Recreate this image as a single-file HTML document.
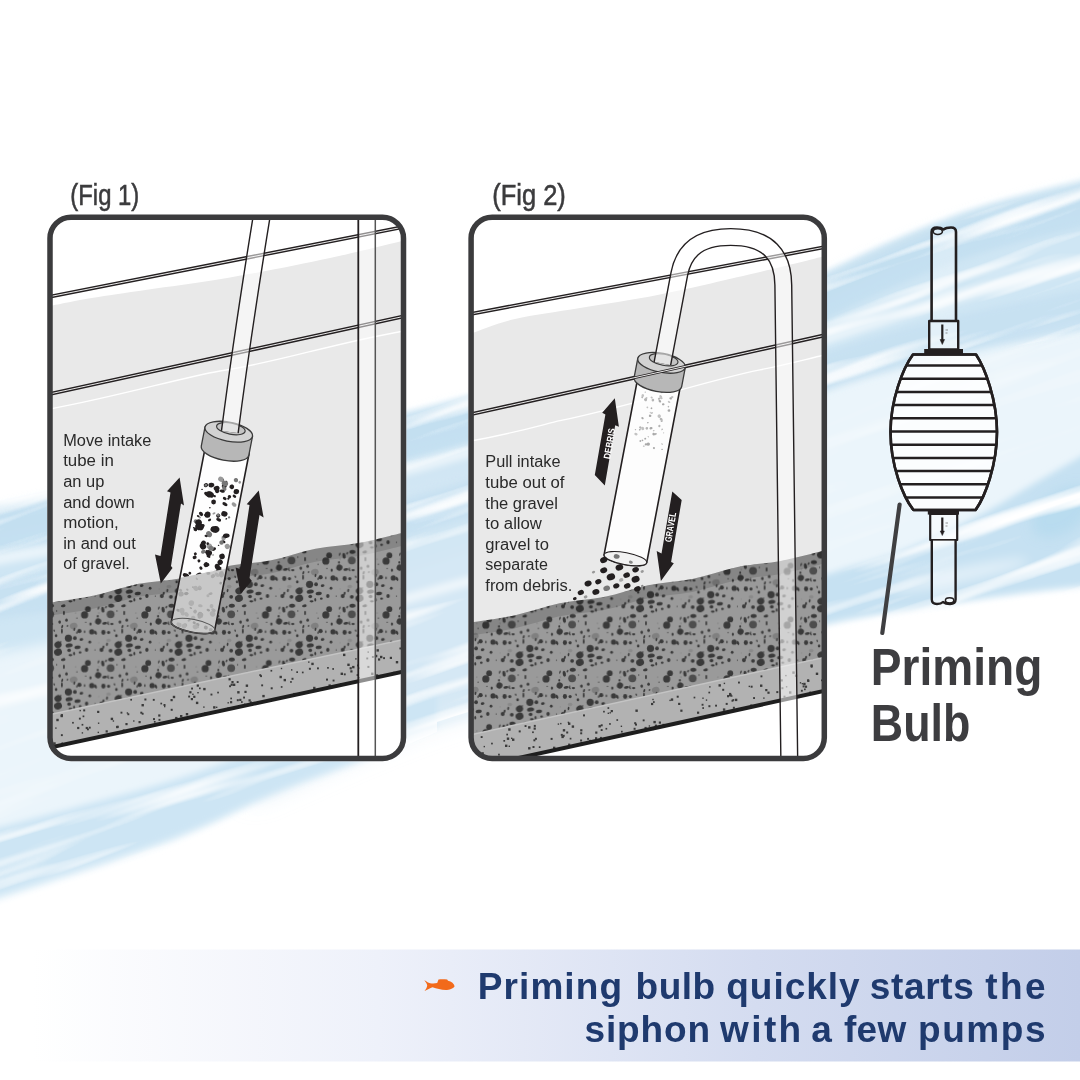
<!DOCTYPE html>
<html><head><meta charset="utf-8"><title>Priming bulb</title>
<style>
html,body{margin:0;padding:0;background:#fff;}
body{width:1080px;height:1080px;overflow:hidden;font-family:"Liberation Sans",sans-serif;}
svg{display:block;font-family:"Liberation Sans",sans-serif;}
</style></head><body>
<svg width="1080" height="1080" viewBox="0 0 1080 1080">
<defs>
<linearGradient id="ban" x1="0" x2="1" y1="0" y2="0">
<stop offset="0" stop-color="#ffffff"/><stop offset="0.03" stop-color="#ffffff"/>
<stop offset="0.35" stop-color="#eef1fa"/><stop offset="0.7" stop-color="#d4dcf0"/><stop offset="1" stop-color="#c3cee9"/>
</linearGradient>
<filter id="b2" x="-5%" y="-5%" width="110%" height="110%"><feGaussianBlur stdDeviation="2"/></filter>
<filter id="b5" x="-10%" y="-10%" width="120%" height="120%"><feGaussianBlur stdDeviation="5"/></filter>
<filter id="b10" x="-10%" y="-10%" width="120%" height="120%"><feGaussianBlur stdDeviation="10"/></filter>
<pattern id="grv" width="60.3" height="53.8" patternUnits="userSpaceOnUse" patternTransform="translate(60 600)">
<rect width="61.3" height="54.8" fill="#9a9a9a"/>
<ellipse cx="3.2" cy="5.8" rx="2.3" ry="1.4" fill="#3a3a3a" transform="rotate(-10 3.2 5.8)"/>
<ellipse cx="63.5" cy="5.8" rx="2.3" ry="1.4" fill="#3a3a3a" transform="rotate(-10 63.5 5.8)"/>
<ellipse cx="27.9" cy="9.1" rx="2.9" ry="2.9" fill="#3a3a3a" transform="rotate(0 27.9 9.1)"/>
<ellipse cx="24.6" cy="14.9" rx="3.6" ry="3.6" fill="#3a3a3a" transform="rotate(0 24.6 14.9)"/>
<ellipse cx="42.8" cy="9.7" rx="1.6" ry="2.9" fill="#3a3a3a" transform="rotate(-10 42.8 9.7)"/>
<ellipse cx="46" cy="7.1" rx="0.9" ry="1.4" fill="#444" transform="rotate(30 46 7.1)"/>
<ellipse cx="51.2" cy="5.8" rx="3.1" ry="2" fill="#3a3a3a" transform="rotate(-5 51.2 5.8)"/>
<ellipse cx="50.6" cy="14.3" rx="3.9" ry="3.9" fill="#4d4d4d" transform="rotate(0 50.6 14.3)"/>
<ellipse cx="3.9" cy="13" rx="0.9" ry="2.3" fill="#3a3a3a" transform="rotate(0 3.9 13)"/>
<ellipse cx="64.2" cy="13" rx="0.9" ry="2.3" fill="#3a3a3a" transform="rotate(0 64.2 13)"/>
<ellipse cx="6.5" cy="20.1" rx="1.3" ry="1.6" fill="#3a3a3a" transform="rotate(0 6.5 20.1)"/>
<ellipse cx="38.2" cy="21.4" rx="3.1" ry="3.1" fill="#3a3a3a" transform="rotate(20 38.2 21.4)"/>
<ellipse cx="44.7" cy="23.3" rx="2.6" ry="1.3" fill="#3a3a3a" transform="rotate(-10 44.7 23.3)"/>
<ellipse cx="51.9" cy="24" rx="1.7" ry="1.1" fill="#3a3a3a" transform="rotate(0 51.9 24)"/>
<ellipse cx="-0.4" cy="22" rx="1.3" ry="1.7" fill="#3a3a3a" transform="rotate(0 -0.4 22)"/>
<ellipse cx="59.9" cy="22" rx="1.3" ry="1.7" fill="#3a3a3a" transform="rotate(0 59.9 22)"/>
<ellipse cx="13.6" cy="25.9" rx="3.9" ry="3.1" fill="#808080" transform="rotate(-20 13.6 25.9)"/>
<ellipse cx="30.5" cy="24" rx="1.1" ry="1.6" fill="#3a3a3a" transform="rotate(0 30.5 24)"/>
<ellipse cx="19.4" cy="31.1" rx="2.1" ry="2.1" fill="#3a3a3a" transform="rotate(0 19.4 31.1)"/>
<ellipse cx="24.6" cy="31.8" rx="0.7" ry="1.3" fill="#3a3a3a" transform="rotate(0 24.6 31.8)"/>
<ellipse cx="31.8" cy="31.8" rx="2.6" ry="2.6" fill="#3a3a3a" transform="rotate(0 31.8 31.8)"/>
<ellipse cx="36" cy="33.4" rx="0.9" ry="1.4" fill="#3a3a3a" transform="rotate(0 36 33.4)"/>
<ellipse cx="43.4" cy="32.4" rx="2.1" ry="2.4" fill="#3a3a3a" transform="rotate(0 43.4 32.4)"/>
<ellipse cx="48.6" cy="32.4" rx="1.6" ry="1.6" fill="#3a3a3a" transform="rotate(0 48.6 32.4)"/>
<ellipse cx="1.9" cy="31.1" rx="0.9" ry="2.6" fill="#3a3a3a" transform="rotate(0 1.9 31.1)"/>
<ellipse cx="62.2" cy="31.1" rx="0.9" ry="2.6" fill="#3a3a3a" transform="rotate(0 62.2 31.1)"/>
<ellipse cx="8.4" cy="38.2" rx="3.6" ry="3.6" fill="#3a3a3a" transform="rotate(0 8.4 38.2)"/>
<ellipse cx="14.9" cy="38.2" rx="1.9" ry="2" fill="#3a3a3a" transform="rotate(0 14.9 38.2)"/>
<ellipse cx="21.4" cy="39.5" rx="1.9" ry="1.3" fill="#3a3a3a" transform="rotate(-10 21.4 39.5)"/>
<ellipse cx="-3.9" cy="35.6" rx="1.3" ry="1.6" fill="#3a3a3a" transform="rotate(0 -3.9 35.6)"/>
<ellipse cx="56.4" cy="35.6" rx="1.3" ry="1.6" fill="#3a3a3a" transform="rotate(0 56.4 35.6)"/>
<ellipse cx="29.8" cy="42.1" rx="1.4" ry="1.4" fill="#3a3a3a" transform="rotate(0 29.8 42.1)"/>
<ellipse cx="9.1" cy="45.4" rx="3.6" ry="2" fill="#3a3a3a" transform="rotate(-10 9.1 45.4)"/>
<ellipse cx="17.5" cy="47.3" rx="3.1" ry="1.7" fill="#3a3a3a" transform="rotate(-10 17.5 47.3)"/>
<ellipse cx="9.1" cy="-3.5" rx="1.9" ry="1.7" fill="#3a3a3a" transform="rotate(0 9.1 -3.5)"/>
<ellipse cx="9.1" cy="50.3" rx="1.9" ry="1.7" fill="#3a3a3a" transform="rotate(0 9.1 50.3)"/>
<ellipse cx="26.6" cy="-3.9" rx="1.7" ry="2" fill="#3a3a3a" transform="rotate(0 26.6 -3.9)"/>
<ellipse cx="26.6" cy="49.9" rx="1.7" ry="2" fill="#3a3a3a" transform="rotate(0 26.6 49.9)"/>
<ellipse cx="20.1" cy="-1.3" rx="1.4" ry="1.1" fill="#3a3a3a" transform="rotate(0 20.1 -1.3)"/>
<ellipse cx="20.1" cy="52.5" rx="1.4" ry="1.1" fill="#3a3a3a" transform="rotate(0 20.1 52.5)"/>
<ellipse cx="10.4" cy="1.3" rx="2" ry="1.1" fill="#3a3a3a" transform="rotate(0 10.4 1.3)"/>
<ellipse cx="10.4" cy="55.1" rx="2" ry="1.1" fill="#3a3a3a" transform="rotate(0 10.4 55.1)"/>
<ellipse cx="41.5" cy="-3.9" rx="2" ry="2.1" fill="#3a3a3a" transform="rotate(0 41.5 -3.9)"/>
<ellipse cx="41.5" cy="49.9" rx="2" ry="2.1" fill="#3a3a3a" transform="rotate(0 41.5 49.9)"/>
<ellipse cx="50.6" cy="-3.2" rx="1.9" ry="1.9" fill="#3a3a3a" transform="rotate(0 50.6 -3.2)"/>
<ellipse cx="50.6" cy="50.6" rx="1.9" ry="1.9" fill="#3a3a3a" transform="rotate(0 50.6 50.6)"/>
<ellipse cx="-2" cy="44.7" rx="3.6" ry="3.4" fill="#3a3a3a" transform="rotate(-30 -2 44.7)"/>
<ellipse cx="58.3" cy="44.7" rx="3.6" ry="3.4" fill="#3a3a3a" transform="rotate(-30 58.3 44.7)"/>
<ellipse cx="-2" cy="-1.7" rx="4" ry="3.6" fill="#3a3a3a" transform="rotate(-20 -2 -1.7)"/>
<ellipse cx="-2" cy="52.1" rx="4" ry="3.6" fill="#3a3a3a" transform="rotate(-20 -2 52.1)"/>
<ellipse cx="58.3" cy="-1.7" rx="4" ry="3.6" fill="#3a3a3a" transform="rotate(-20 58.3 -1.7)"/>
<ellipse cx="58.3" cy="52.1" rx="4" ry="3.6" fill="#3a3a3a" transform="rotate(-20 58.3 52.1)"/>
<ellipse cx="48.6" cy="40.4" rx="2.3" ry="1.7" fill="#8a8a8a" transform="rotate(0 48.6 40.4)"/>
<ellipse cx="38.9" cy="13" rx="0.9" ry="1.1" fill="#8a8a8a" transform="rotate(0 38.9 13)"/>
<ellipse cx="15.6" cy="13" rx="0.9" ry="0.9" fill="#8a8a8a" transform="rotate(0 15.6 13)"/>
<ellipse cx="16.9" cy="18.1" rx="0.6" ry="0.6" fill="#3a3a3a" transform="rotate(0 16.9 18.1)"/>
<ellipse cx="-3.3" cy="11" rx="0.6" ry="0.7" fill="#3a3a3a" transform="rotate(0 -3.3 11)"/>
<ellipse cx="57" cy="11" rx="0.6" ry="0.7" fill="#3a3a3a" transform="rotate(0 57 11)"/>
<ellipse cx="35" cy="-3.9" rx="0.6" ry="0.7" fill="#3a3a3a" transform="rotate(0 35 -3.9)"/>
<ellipse cx="35" cy="49.9" rx="0.6" ry="0.7" fill="#3a3a3a" transform="rotate(0 35 49.9)"/>
<ellipse cx="38.9" cy="42.8" rx="0.6" ry="0.6" fill="#8a8a8a" transform="rotate(0 38.9 42.8)"/>
<ellipse cx="14.3" cy="29.3" rx="0.9" ry="1.7" fill="#3a3a3a" transform="rotate(10 14.3 29.3)"/>
<ellipse cx="35" cy="32.6" rx="1" ry="1.3" fill="#3a3a3a" transform="rotate(5 35 32.6)"/>
<ellipse cx="14.1" cy="-0.2" rx="1" ry="1.7" fill="#3a3a3a" transform="rotate(-5 14.1 -0.2)"/>
<ellipse cx="14.1" cy="53.6" rx="1" ry="1.7" fill="#3a3a3a" transform="rotate(-5 14.1 53.6)"/>
<ellipse cx="38.5" cy="8.1" rx="0.7" ry="1.7" fill="#3a3a3a" transform="rotate(17 38.5 8.1)"/>
<ellipse cx="0.9" cy="41.8" rx="0.7" ry="0.7" fill="#3a3a3a" transform="rotate(-11 0.9 41.8)"/>
<ellipse cx="61.2" cy="41.8" rx="0.7" ry="0.7" fill="#3a3a3a" transform="rotate(-11 61.2 41.8)"/>
<ellipse cx="47" cy="44.3" rx="0.9" ry="1.7" fill="#3a3a3a" transform="rotate(8 47 44.3)"/>
<ellipse cx="43.3" cy="47.3" rx="1" ry="1.7" fill="#3a3a3a" transform="rotate(16 43.3 47.3)"/>
<ellipse cx="48.3" cy="23.9" rx="0.7" ry="1.3" fill="#3a3a3a" transform="rotate(-24 48.3 23.9)"/>
<ellipse cx="2.2" cy="26.6" rx="0.9" ry="1.7" fill="#3a3a3a" transform="rotate(19 2.2 26.6)"/>
<ellipse cx="62.5" cy="26.6" rx="0.9" ry="1.7" fill="#3a3a3a" transform="rotate(19 62.5 26.6)"/>
<ellipse cx="37.8" cy="16.2" rx="1" ry="1.3" fill="#3a3a3a" transform="rotate(4 37.8 16.2)"/>
<ellipse cx="35.3" cy="31.4" rx="0.9" ry="0.7" fill="#3a3a3a" transform="rotate(24 35.3 31.4)"/>
<ellipse cx="16.9" cy="32.6" rx="0.7" ry="1.3" fill="#3a3a3a" transform="rotate(4 16.9 32.6)"/>
<ellipse cx="54.5" cy="30.6" rx="0.7" ry="1.3" fill="#3a3a3a" transform="rotate(-12 54.5 30.6)"/>
<ellipse cx="7.5" cy="25.9" rx="1" ry="0.7" fill="#3a3a3a" transform="rotate(-8 7.5 25.9)"/>
<ellipse cx="48.3" cy="22.1" rx="0.7" ry="0.7" fill="#3a3a3a" transform="rotate(-12 48.3 22.1)"/>
<ellipse cx="25.7" cy="22.3" rx="0.6" ry="0.7" fill="#3a3a3a" transform="rotate(8 25.7 22.3)"/>
</pattern>
<pattern id="grv2" width="60.3" height="53.8" patternUnits="userSpaceOnUse" patternTransform="translate(461.2 610.3)">
<rect width="61.3" height="54.8" fill="#9a9a9a"/>
<ellipse cx="3.2" cy="5.8" rx="2.3" ry="1.4" fill="#3a3a3a" transform="rotate(-10 3.2 5.8)"/>
<ellipse cx="63.5" cy="5.8" rx="2.3" ry="1.4" fill="#3a3a3a" transform="rotate(-10 63.5 5.8)"/>
<ellipse cx="27.9" cy="9.1" rx="2.9" ry="2.9" fill="#3a3a3a" transform="rotate(0 27.9 9.1)"/>
<ellipse cx="24.6" cy="14.9" rx="3.6" ry="3.6" fill="#3a3a3a" transform="rotate(0 24.6 14.9)"/>
<ellipse cx="42.8" cy="9.7" rx="1.6" ry="2.9" fill="#3a3a3a" transform="rotate(-10 42.8 9.7)"/>
<ellipse cx="46" cy="7.1" rx="0.9" ry="1.4" fill="#444" transform="rotate(30 46 7.1)"/>
<ellipse cx="51.2" cy="5.8" rx="3.1" ry="2" fill="#3a3a3a" transform="rotate(-5 51.2 5.8)"/>
<ellipse cx="50.6" cy="14.3" rx="3.9" ry="3.9" fill="#4d4d4d" transform="rotate(0 50.6 14.3)"/>
<ellipse cx="3.9" cy="13" rx="0.9" ry="2.3" fill="#3a3a3a" transform="rotate(0 3.9 13)"/>
<ellipse cx="64.2" cy="13" rx="0.9" ry="2.3" fill="#3a3a3a" transform="rotate(0 64.2 13)"/>
<ellipse cx="6.5" cy="20.1" rx="1.3" ry="1.6" fill="#3a3a3a" transform="rotate(0 6.5 20.1)"/>
<ellipse cx="38.2" cy="21.4" rx="3.1" ry="3.1" fill="#3a3a3a" transform="rotate(20 38.2 21.4)"/>
<ellipse cx="44.7" cy="23.3" rx="2.6" ry="1.3" fill="#3a3a3a" transform="rotate(-10 44.7 23.3)"/>
<ellipse cx="51.9" cy="24" rx="1.7" ry="1.1" fill="#3a3a3a" transform="rotate(0 51.9 24)"/>
<ellipse cx="-0.4" cy="22" rx="1.3" ry="1.7" fill="#3a3a3a" transform="rotate(0 -0.4 22)"/>
<ellipse cx="59.9" cy="22" rx="1.3" ry="1.7" fill="#3a3a3a" transform="rotate(0 59.9 22)"/>
<ellipse cx="13.6" cy="25.9" rx="3.9" ry="3.1" fill="#808080" transform="rotate(-20 13.6 25.9)"/>
<ellipse cx="30.5" cy="24" rx="1.1" ry="1.6" fill="#3a3a3a" transform="rotate(0 30.5 24)"/>
<ellipse cx="19.4" cy="31.1" rx="2.1" ry="2.1" fill="#3a3a3a" transform="rotate(0 19.4 31.1)"/>
<ellipse cx="24.6" cy="31.8" rx="0.7" ry="1.3" fill="#3a3a3a" transform="rotate(0 24.6 31.8)"/>
<ellipse cx="31.8" cy="31.8" rx="2.6" ry="2.6" fill="#3a3a3a" transform="rotate(0 31.8 31.8)"/>
<ellipse cx="36" cy="33.4" rx="0.9" ry="1.4" fill="#3a3a3a" transform="rotate(0 36 33.4)"/>
<ellipse cx="43.4" cy="32.4" rx="2.1" ry="2.4" fill="#3a3a3a" transform="rotate(0 43.4 32.4)"/>
<ellipse cx="48.6" cy="32.4" rx="1.6" ry="1.6" fill="#3a3a3a" transform="rotate(0 48.6 32.4)"/>
<ellipse cx="1.9" cy="31.1" rx="0.9" ry="2.6" fill="#3a3a3a" transform="rotate(0 1.9 31.1)"/>
<ellipse cx="62.2" cy="31.1" rx="0.9" ry="2.6" fill="#3a3a3a" transform="rotate(0 62.2 31.1)"/>
<ellipse cx="8.4" cy="38.2" rx="3.6" ry="3.6" fill="#3a3a3a" transform="rotate(0 8.4 38.2)"/>
<ellipse cx="14.9" cy="38.2" rx="1.9" ry="2" fill="#3a3a3a" transform="rotate(0 14.9 38.2)"/>
<ellipse cx="21.4" cy="39.5" rx="1.9" ry="1.3" fill="#3a3a3a" transform="rotate(-10 21.4 39.5)"/>
<ellipse cx="-3.9" cy="35.6" rx="1.3" ry="1.6" fill="#3a3a3a" transform="rotate(0 -3.9 35.6)"/>
<ellipse cx="56.4" cy="35.6" rx="1.3" ry="1.6" fill="#3a3a3a" transform="rotate(0 56.4 35.6)"/>
<ellipse cx="29.8" cy="42.1" rx="1.4" ry="1.4" fill="#3a3a3a" transform="rotate(0 29.8 42.1)"/>
<ellipse cx="9.1" cy="45.4" rx="3.6" ry="2" fill="#3a3a3a" transform="rotate(-10 9.1 45.4)"/>
<ellipse cx="17.5" cy="47.3" rx="3.1" ry="1.7" fill="#3a3a3a" transform="rotate(-10 17.5 47.3)"/>
<ellipse cx="9.1" cy="-3.5" rx="1.9" ry="1.7" fill="#3a3a3a" transform="rotate(0 9.1 -3.5)"/>
<ellipse cx="9.1" cy="50.3" rx="1.9" ry="1.7" fill="#3a3a3a" transform="rotate(0 9.1 50.3)"/>
<ellipse cx="26.6" cy="-3.9" rx="1.7" ry="2" fill="#3a3a3a" transform="rotate(0 26.6 -3.9)"/>
<ellipse cx="26.6" cy="49.9" rx="1.7" ry="2" fill="#3a3a3a" transform="rotate(0 26.6 49.9)"/>
<ellipse cx="20.1" cy="-1.3" rx="1.4" ry="1.1" fill="#3a3a3a" transform="rotate(0 20.1 -1.3)"/>
<ellipse cx="20.1" cy="52.5" rx="1.4" ry="1.1" fill="#3a3a3a" transform="rotate(0 20.1 52.5)"/>
<ellipse cx="10.4" cy="1.3" rx="2" ry="1.1" fill="#3a3a3a" transform="rotate(0 10.4 1.3)"/>
<ellipse cx="10.4" cy="55.1" rx="2" ry="1.1" fill="#3a3a3a" transform="rotate(0 10.4 55.1)"/>
<ellipse cx="41.5" cy="-3.9" rx="2" ry="2.1" fill="#3a3a3a" transform="rotate(0 41.5 -3.9)"/>
<ellipse cx="41.5" cy="49.9" rx="2" ry="2.1" fill="#3a3a3a" transform="rotate(0 41.5 49.9)"/>
<ellipse cx="50.6" cy="-3.2" rx="1.9" ry="1.9" fill="#3a3a3a" transform="rotate(0 50.6 -3.2)"/>
<ellipse cx="50.6" cy="50.6" rx="1.9" ry="1.9" fill="#3a3a3a" transform="rotate(0 50.6 50.6)"/>
<ellipse cx="-2" cy="44.7" rx="3.6" ry="3.4" fill="#3a3a3a" transform="rotate(-30 -2 44.7)"/>
<ellipse cx="58.3" cy="44.7" rx="3.6" ry="3.4" fill="#3a3a3a" transform="rotate(-30 58.3 44.7)"/>
<ellipse cx="-2" cy="-1.7" rx="4" ry="3.6" fill="#3a3a3a" transform="rotate(-20 -2 -1.7)"/>
<ellipse cx="-2" cy="52.1" rx="4" ry="3.6" fill="#3a3a3a" transform="rotate(-20 -2 52.1)"/>
<ellipse cx="58.3" cy="-1.7" rx="4" ry="3.6" fill="#3a3a3a" transform="rotate(-20 58.3 -1.7)"/>
<ellipse cx="58.3" cy="52.1" rx="4" ry="3.6" fill="#3a3a3a" transform="rotate(-20 58.3 52.1)"/>
<ellipse cx="48.6" cy="40.4" rx="2.3" ry="1.7" fill="#8a8a8a" transform="rotate(0 48.6 40.4)"/>
<ellipse cx="38.9" cy="13" rx="0.9" ry="1.1" fill="#8a8a8a" transform="rotate(0 38.9 13)"/>
<ellipse cx="15.6" cy="13" rx="0.9" ry="0.9" fill="#8a8a8a" transform="rotate(0 15.6 13)"/>
<ellipse cx="16.9" cy="18.1" rx="0.6" ry="0.6" fill="#3a3a3a" transform="rotate(0 16.9 18.1)"/>
<ellipse cx="-3.3" cy="11" rx="0.6" ry="0.7" fill="#3a3a3a" transform="rotate(0 -3.3 11)"/>
<ellipse cx="57" cy="11" rx="0.6" ry="0.7" fill="#3a3a3a" transform="rotate(0 57 11)"/>
<ellipse cx="35" cy="-3.9" rx="0.6" ry="0.7" fill="#3a3a3a" transform="rotate(0 35 -3.9)"/>
<ellipse cx="35" cy="49.9" rx="0.6" ry="0.7" fill="#3a3a3a" transform="rotate(0 35 49.9)"/>
<ellipse cx="38.9" cy="42.8" rx="0.6" ry="0.6" fill="#8a8a8a" transform="rotate(0 38.9 42.8)"/>
<ellipse cx="14.3" cy="29.3" rx="0.9" ry="1.7" fill="#3a3a3a" transform="rotate(10 14.3 29.3)"/>
<ellipse cx="35" cy="32.6" rx="1" ry="1.3" fill="#3a3a3a" transform="rotate(5 35 32.6)"/>
<ellipse cx="14.1" cy="-0.2" rx="1" ry="1.7" fill="#3a3a3a" transform="rotate(-5 14.1 -0.2)"/>
<ellipse cx="14.1" cy="53.6" rx="1" ry="1.7" fill="#3a3a3a" transform="rotate(-5 14.1 53.6)"/>
<ellipse cx="38.5" cy="8.1" rx="0.7" ry="1.7" fill="#3a3a3a" transform="rotate(17 38.5 8.1)"/>
<ellipse cx="0.9" cy="41.8" rx="0.7" ry="0.7" fill="#3a3a3a" transform="rotate(-11 0.9 41.8)"/>
<ellipse cx="61.2" cy="41.8" rx="0.7" ry="0.7" fill="#3a3a3a" transform="rotate(-11 61.2 41.8)"/>
<ellipse cx="47" cy="44.3" rx="0.9" ry="1.7" fill="#3a3a3a" transform="rotate(8 47 44.3)"/>
<ellipse cx="43.3" cy="47.3" rx="1" ry="1.7" fill="#3a3a3a" transform="rotate(16 43.3 47.3)"/>
<ellipse cx="48.3" cy="23.9" rx="0.7" ry="1.3" fill="#3a3a3a" transform="rotate(-24 48.3 23.9)"/>
<ellipse cx="2.2" cy="26.6" rx="0.9" ry="1.7" fill="#3a3a3a" transform="rotate(19 2.2 26.6)"/>
<ellipse cx="62.5" cy="26.6" rx="0.9" ry="1.7" fill="#3a3a3a" transform="rotate(19 62.5 26.6)"/>
<ellipse cx="37.8" cy="16.2" rx="1" ry="1.3" fill="#3a3a3a" transform="rotate(4 37.8 16.2)"/>
<ellipse cx="35.3" cy="31.4" rx="0.9" ry="0.7" fill="#3a3a3a" transform="rotate(24 35.3 31.4)"/>
<ellipse cx="16.9" cy="32.6" rx="0.7" ry="1.3" fill="#3a3a3a" transform="rotate(4 16.9 32.6)"/>
<ellipse cx="54.5" cy="30.6" rx="0.7" ry="1.3" fill="#3a3a3a" transform="rotate(-12 54.5 30.6)"/>
<ellipse cx="7.5" cy="25.9" rx="1" ry="0.7" fill="#3a3a3a" transform="rotate(-8 7.5 25.9)"/>
<ellipse cx="48.3" cy="22.1" rx="0.7" ry="0.7" fill="#3a3a3a" transform="rotate(-12 48.3 22.1)"/>
<ellipse cx="25.7" cy="22.3" rx="0.6" ry="0.7" fill="#3a3a3a" transform="rotate(8 25.7 22.3)"/>
</pattern>
<clipPath id="c1"><rect x="50" y="217" width="354" height="542" rx="21"/></clipPath>
<clipPath id="c2"><rect x="471" y="217" width="353.5" height="542" rx="21"/></clipPath>
</defs>

<!--WAVE-->
<filter id="wb3" filterUnits="userSpaceOnUse" x="-60" y="0" width="1200" height="1080"><feGaussianBlur stdDeviation="3"/></filter>
<filter id="wb6" filterUnits="userSpaceOnUse" x="-60" y="0" width="1200" height="1080"><feGaussianBlur stdDeviation="6"/></filter>
<filter id="wb12" filterUnits="userSpaceOnUse" x="-60" y="0" width="1200" height="1080"><feGaussianBlur stdDeviation="12"/></filter>
<filter id="marble" filterUnits="userSpaceOnUse" x="-400" y="-400" width="1900" height="1900"><feTurbulence type="fractalNoise" baseFrequency="0.0035 0.045" numOctaves="3" seed="11" result="n"/><feColorMatrix in="n" type="matrix" values="0 0 0 0 1  0 0 0 0 1  0 0 0 0 1  3.0 0 0 0 -1.5"/></filter>
<g id="wave">
<g filter="url(#wb3)"><path d="M-30,512 C8.3,503.7 122.2,479.8 200,462 C277.8,444.2 363.7,424.2 437,405 C510.3,385.8 586.2,364 640,347 C693.8,330 728.8,315.5 760,303 C791.2,290.5 805.2,282.2 827,272 C848.8,261.8 871,250.8 891,242 C911,233.2 928.5,225.8 947,219 C965.5,212.2 974.8,208.5 1002,201 C1029.2,193.5 1092,178.5 1110,174 L1110,584 C1085,587.2 1007,596.2 960,603 C913,609.8 881.3,613.5 828,625 C774.7,636.5 705.2,654.8 640,672 C574.8,689.2 484.3,712.7 437,728 C389.7,743.3 382.5,753 356,764 C329.5,775 309.5,780.7 278,794 C246.5,807.3 218.3,824.7 167,844 C115.7,863.3 2.8,899 -30,910 Z" fill="#ebf5fb" fill-opacity="1"/></g>
<g filter="url(#wb6)"><path d="M-30,517 C8.3,508.7 122.2,484.8 200,467 C277.8,449.2 363.7,429.2 437,410 C510.3,390.8 586.2,369 640,352 C693.8,335 728.8,320.5 760,308 C791.2,295.5 805.2,287.2 827,277 C848.8,266.8 871,255.8 891,247 C911,238.2 928.5,230.8 947,224 C965.5,217.2 974.8,213.5 1002,206 C1029.2,198.5 1092,183.5 1110,179 L1110,322 C1085,327 1007,341.5 960,352 C913,362.5 881.3,365.3 828,385 C774.7,404.7 705.2,440.8 640,470 C574.8,499.2 510.3,536.7 437,560 C363.7,583.3 277.8,593.3 200,610 C122.2,626.7 8.3,651.7 -30,660 Z" fill="#cfe6f4" fill-opacity="1"/></g>
<g filter="url(#wb3)"><path d="M-30,513 C8.3,504.7 122.2,480.8 200,463 C277.8,445.2 363.7,425.2 437,406 C510.3,386.8 586.2,365 640,348 C693.8,331 728.8,316.5 760,304 C791.2,291.5 805.2,283.2 827,273 C848.8,262.8 871,251.8 891,243 C911,234.2 928.5,226.8 947,220 C965.5,213.2 974.8,209.5 1002,202 C1029.2,194.5 1092,179.5 1110,175 L1110,204 C1092,208.5 1029.2,223.5 1002,231 C974.8,238.5 965.5,242.2 947,249 C928.5,255.8 911,263.2 891,272 C871,280.8 848.8,291.8 827,302 C805.2,312.2 791.2,320.5 760,333 C728.8,345.5 693.8,360 640,377 C586.2,394 510.3,415.8 437,435 C363.7,454.2 277.8,474.2 200,492 C122.2,509.8 8.3,533.7 -30,542 Z" fill="#cbe3f2" fill-opacity="1"/></g>
<g filter="url(#wb12)"><path d="M250,520 C281.2,511.7 372,486.7 437,470 C502,453.3 586.2,431.7 640,420 C693.8,408.3 740,403.3 760,400 L760,640 C740,644.7 693.8,654.3 640,668 C586.2,681.7 502,700 437,722 C372,744 281.2,787 250,800 Z" fill="#d3e7f4" fill-opacity="0.9"/></g>
<g filter="url(#wb3)"><path d="M-30,835 C2.8,826.2 115.7,797.5 167,782 C218.3,766.5 246.5,753.2 278,742 C309.5,730.8 329.5,724 356,715 C382.5,706 423.5,692.5 437,688 L437,726 C423.5,731.7 382.5,749.3 356,760 C329.5,770.7 309.5,776.7 278,790 C246.5,803.3 218.3,820.8 167,840 C115.7,859.2 2.8,894.2 -30,905 Z" fill="#cde5f4" fill-opacity="1"/></g>
<g filter="url(#wb3)"><path d="M760,600 C771.3,595.7 804.7,582 828,574 C851.3,566 874.7,561.8 900,552 C925.3,542.2 956.7,527 980,515 C1003.3,503 1018.3,492.5 1040,480 C1061.7,467.5 1098.3,446.7 1110,440 L1110,583 C1098.3,584.2 1061.7,587.5 1040,590 C1018.3,592.5 1003.3,594.7 980,598 C956.7,601.3 925.3,605.8 900,610 C874.7,614.2 851.3,617.7 828,623 C804.7,628.3 771.3,638.8 760,642 Z" fill="#c6e1f2" fill-opacity="1"/></g>
<g filter="url(#wb6)"><ellipse cx="1062" cy="512" rx="34" ry="20" fill="#b4d9ee" fill-opacity="0.75" transform="rotate(-35 1062 512)"/><ellipse cx="960" cy="575" rx="70" ry="7" fill="#fff" fill-opacity="0.5" transform="rotate(-12 960 575)"/></g>
<g filter="url(#wb3)"><path d="M-30,521 C8.3,512.7 122.2,488.8 200,471 C277.8,453.2 363.7,433.2 437,414 C510.3,394.8 586.2,373 640,356 C693.8,339 728.8,324.5 760,312 C791.2,299.5 805.2,291.2 827,281 C848.8,270.8 871,259.8 891,251 C911,242.2 928.5,234.8 947,228 C965.5,221.2 974.8,217.5 1002,210 C1029.2,202.5 1092,187.5 1110,183 L1110,220 C1092,224.5 1029.2,239.5 1002,247 C974.8,254.5 965.5,258.2 947,265 C928.5,271.8 911,279.2 891,288 C871,296.8 848.8,307.8 827,318 C805.2,328.2 791.2,336.5 760,349 C728.8,361.5 693.8,376 640,393 C586.2,410 510.3,431.8 437,451 C363.7,470.2 277.8,490.2 200,508 C122.2,525.8 8.3,549.7 -30,558 Z" fill="#c2def0" fill-opacity="0.85"/></g>
<g filter="url(#wb3)"><path d="M-30,585 C8.3,578.8 122.2,563.8 200,548 C277.8,532.2 363.7,510.5 437,490 C510.3,469.5 574.8,448 640,425 C705.2,402 774.7,370.3 828,352 C881.3,333.7 913,326.2 960,315 C1007,303.8 1085,290 1110,285 L1110,323 C1085,328 1007,341.8 960,353 C913,364.2 881.3,371.7 828,390 C774.7,408.3 705.2,440 640,463 C574.8,486 510.3,507.5 437,528 C363.7,548.5 277.8,570.2 200,586 C122.2,601.8 8.3,616.8 -30,623 Z" fill="#c4dff0" fill-opacity="0.75"/></g>
<g filter="url(#wb3)"><path d="M-30,558 C8.3,550.8 122.2,532.2 200,515 C277.8,497.8 363.7,475 437,455 C510.3,435 574.8,415.5 640,395 C705.2,374.5 774.7,349.5 828,332 C881.3,314.5 913,303.7 960,290 C1007,276.3 1085,256.7 1110,250 L1110,262 C1085,268.7 1007,288.3 960,302 C913,315.7 881.3,326.5 828,344 C774.7,361.5 705.2,386.5 640,407 C574.8,427.5 510.3,447 437,467 C363.7,487 277.8,509.8 200,527 C122.2,544.2 8.3,562.8 -30,570 Z" fill="#ffffff" fill-opacity="0.55"/></g>
<g filter="url(#wb3)"><path d="M-30,700 C8.3,692.5 122.2,674.2 200,655 C277.8,635.8 363.7,605.8 437,585 C510.3,564.2 606.2,539.2 640,530 L640,540 C606.2,549.2 510.3,574.2 437,595 C363.7,615.8 277.8,645.8 200,665 C122.2,684.2 8.3,702.5 -30,710 Z" fill="#ffffff" fill-opacity="0.6"/></g>
<clipPath id="mclip"><path d="M-30,508 C8.3,499.7 122.2,475.8 200,458 C277.8,440.2 363.7,420.2 437,401 C510.3,381.8 586.2,360 640,343 C693.8,326 728.8,311.5 760,299 C791.2,286.5 805.2,278.2 827,268 C848.8,257.8 871,246.8 891,238 C911,229.2 928.5,221.8 947,215 C965.5,208.2 974.8,204.5 1002,197 C1029.2,189.5 1092,174.5 1110,170 L1110,328 C1085,333 1007,347.5 960,358 C913,368.5 881.3,371.3 828,391 C774.7,410.7 705.2,446.8 640,476 C574.8,505.2 510.3,542.7 437,566 C363.7,589.3 277.8,599.3 200,616 C122.2,632.7 8.3,657.7 -30,666 Z"/><path d="M250,520 C281.2,511.7 372,486.7 437,470 C502,453.3 586.2,431.7 640,420 C693.8,408.3 740,403.3 760,400 L760,640 C740,644.7 693.8,654.3 640,668 C586.2,681.7 502,700 437,722 C372,744 281.2,787 250,800 Z"/><path d="M-30,829 C2.8,820.2 115.7,791.5 167,776 C218.3,760.5 246.5,747.2 278,736 C309.5,724.8 329.5,718 356,709 C382.5,700 423.5,686.5 437,682 L437,732 C423.5,737.7 382.5,755.3 356,766 C329.5,776.7 309.5,782.7 278,796 C246.5,809.3 218.3,826.8 167,846 C115.7,865.2 2.8,900.2 -30,911 Z"/><path d="M760,592 C771.3,587.7 804.7,574 828,566 C851.3,558 874.7,553.8 900,544 C925.3,534.2 956.7,519 980,507 C1003.3,495 1018.3,484.5 1040,472 C1061.7,459.5 1098.3,438.7 1110,432 L1110,589 C1098.3,590.2 1061.7,593.5 1040,596 C1018.3,598.5 1003.3,600.7 980,604 C956.7,607.3 925.3,611.8 900,616 C874.7,620.2 851.3,623.7 828,629 C804.7,634.3 771.3,644.8 760,648 Z"/></clipPath>
<g opacity="0.4"><g transform="rotate(-19 540 540)"><rect x="-300" y="-300" width="1700" height="1700" filter="url(#marble)"/></g></g>
<g clip-path="url(#mclip)"><g transform="rotate(-19 540 540)"><rect x="-300" y="-300" width="1700" height="1700" filter="url(#marble)"/></g></g>
</g>
<rect x="0" y="949.5" width="1080" height="112" fill="url(#ban)"/>
<g id="p1"><rect x="47.3" y="214.5" width="359" height="546.8" rx="23" fill="#fff"/>
<g clip-path="url(#c1)">
<path d="M50,306 C59,304.3 74,300.8 104,296 C134,291.2 192.3,283.7 230,277.4 C267.7,271.1 301,264.1 330,258 C359,251.8 391.7,243.4 404,240.5 L404,671.4 L50,747.6 Z" fill="#e9e9e9"/>
<path d="M50,602.6 C57.4,601.4 79.5,598.5 94.2,595.4 C109,592.3 123.8,586.8 138.5,583.8 C153.2,580.9 168,580.8 182.8,577.9 C197.5,574.9 212.2,569.2 227,566.3 C241.8,563.4 256.5,563.3 271.2,560.3 C286,557.4 300.8,551.7 315.5,548.8 C330.2,545.8 345,545.5 359.8,542.8 C374.5,540.1 396.6,534.1 404,532.4 L404,671.4 L50,747.6 Z" fill="url(#grv)"/>
<path d="M50,602.6 C57.4,601.4 79.5,598.5 94.2,595.4 C109,592.3 123.8,586.8 138.5,583.8 C153.2,580.9 168,580.8 182.8,577.9 C197.5,574.9 212.2,569.2 227,566.3 C241.8,563.4 256.5,563.3 271.2,560.3 C286,557.4 300.8,551.7 315.5,548.8 C330.2,545.8 345,545.5 359.8,542.8 C374.5,540.1 396.6,534.1 404,532.4 L404,545.4 C396.6,547.1 374.5,553.1 359.8,555.8 C345,558.5 330.2,558.8 315.5,561.8 C300.8,564.7 286,570.4 271.2,573.3 C256.5,576.3 241.8,576.4 227,579.3 C212.2,582.2 197.5,587.9 182.8,590.9 C168,593.8 153.2,593.9 138.5,596.8 C123.8,599.8 109,605.3 94.2,608.4 C79.5,611.5 57.4,614.4 50,615.6 Z" fill="#000" fill-opacity="0.13"/>
<path d="M50,714.6 L404,639.4 L404,671.4 L50,747.6 Z" fill="#b2b2b2"/>
<g fill="#3a3a3a"><rect x="97.6" y="731.7" width="1.4" height="1.4"/><rect x="140.3" y="711.7" width="2" height="2"/><rect x="217.2" y="691.7" width="1.7" height="1.7"/><rect x="83.2" y="709.4" width="2" height="2"/><rect x="203.2" y="706.4" width="1.4" height="1.4"/><rect x="296.3" y="671.3" width="1.7" height="1.7"/><rect x="259.3" y="674.2" width="1.9" height="1.9"/><rect x="60.8" y="714.1" width="2.2" height="2.2"/><rect x="53.3" y="742.3" width="2.4" height="2.4"/><rect x="126.7" y="712.3" width="1.4" height="1.4"/><rect x="236.8" y="699.2" width="2" height="2"/><rect x="245.7" y="684.5" width="2.4" height="2.4"/><rect x="127.4" y="713.3" width="1.9" height="1.9"/><rect x="378" y="658.4" width="2.2" height="2.2"/><rect x="376.5" y="649.2" width="2.4" height="2.4"/><rect x="401.4" y="666.7" width="1.4" height="1.4"/><rect x="313.1" y="686.8" width="2.4" height="2.4"/><rect x="227.3" y="707.4" width="2.2" height="2.2"/><rect x="343.8" y="673.4" width="1.9" height="1.9"/><rect x="150.6" y="724.2" width="2" height="2"/><rect x="349.6" y="667.2" width="2.2" height="2.2"/><rect x="352.1" y="665.9" width="2.4" height="2.4"/><rect x="332.3" y="668.1" width="1.7" height="1.7"/><rect x="180" y="715" width="2.4" height="2.4"/><rect x="311.3" y="662.7" width="2.4" height="2.4"/><rect x="230" y="701.1" width="2.2" height="2.2"/><rect x="347.3" y="663.6" width="2.4" height="2.4"/><rect x="60.5" y="714.8" width="2.4" height="2.4"/><rect x="350.3" y="670.3" width="2.2" height="2.2"/><rect x="189.3" y="691.2" width="2.2" height="2.2"/><rect x="130.3" y="698.9" width="1.7" height="1.7"/><rect x="241" y="701.2" width="1.7" height="1.7"/><rect x="193.2" y="695.7" width="2.2" height="2.2"/><rect x="175.1" y="716.9" width="2.4" height="2.4"/><rect x="244" y="703.5" width="1.4" height="1.4"/><rect x="185.8" y="713" width="2.4" height="2.4"/><rect x="231.4" y="681" width="2.2" height="2.2"/><rect x="122.7" y="729.4" width="2" height="2"/><rect x="358" y="667.3" width="1.7" height="1.7"/><rect x="383.1" y="657.2" width="1.9" height="1.9"/><rect x="196.7" y="684.5" width="2.2" height="2.2"/><rect x="270.7" y="687.3" width="2" height="2"/><rect x="262.3" y="694.9" width="2.4" height="2.4"/><rect x="112.7" y="720.3" width="1.4" height="1.4"/><rect x="332.6" y="679.6" width="1.9" height="1.9"/><rect x="61.5" y="742.4" width="1.4" height="1.4"/><rect x="79.5" y="709.9" width="1.4" height="1.4"/><rect x="317" y="667.4" width="1.9" height="1.9"/><rect x="88.8" y="726.7" width="1.9" height="1.9"/><rect x="152.8" y="698.9" width="1.9" height="1.9"/><rect x="236.7" y="681.1" width="1.9" height="1.9"/><rect x="279.5" y="675.8" width="2.4" height="2.4"/><rect x="164" y="705.9" width="1.4" height="1.4"/><rect x="160.4" y="702.7" width="1.7" height="1.7"/><rect x="141.5" y="704" width="2.4" height="2.4"/><rect x="230.6" y="683.6" width="2.2" height="2.2"/><rect x="202.8" y="713" width="1.7" height="1.7"/><rect x="56.3" y="718.8" width="2.4" height="2.4"/><rect x="389.8" y="656.8" width="2.2" height="2.2"/><rect x="290.1" y="681.1" width="1.7" height="1.7"/><rect x="395.8" y="661" width="2.4" height="2.4"/><rect x="232.9" y="683.6" width="2.4" height="2.4"/><rect x="60.9" y="734.2" width="1.9" height="1.9"/><rect x="283.6" y="678.9" width="2.4" height="2.4"/><rect x="155.7" y="722.9" width="1.4" height="1.4"/><rect x="158.5" y="718.9" width="1.9" height="1.9"/><rect x="374.7" y="655.6" width="1.7" height="1.7"/><rect x="197.3" y="692" width="1.4" height="1.4"/><rect x="248.5" y="699.3" width="2.2" height="2.2"/><rect x="340.1" y="683" width="2.2" height="2.2"/><rect x="213.1" y="706.2" width="2.4" height="2.4"/><rect x="270.5" y="669.9" width="1.7" height="1.7"/><rect x="172.8" y="695.8" width="2.4" height="2.4"/><rect x="367.4" y="665.9" width="2" height="2"/><rect x="87" y="728.4" width="1.9" height="1.9"/><rect x="228.5" y="678.2" width="2.2" height="2.2"/><rect x="358.6" y="677.1" width="1.4" height="1.4"/><rect x="105.6" y="730.3" width="2.2" height="2.2"/><rect x="327.1" y="667" width="1.7" height="1.7"/><rect x="144.4" y="698.5" width="2" height="2"/><rect x="380" y="655.8" width="2.4" height="2.4"/><rect x="239.2" y="698.8" width="2.2" height="2.2"/><rect x="133.1" y="720.3" width="1.4" height="1.4"/><rect x="97.1" y="710.8" width="2.2" height="2.2"/><rect x="125.4" y="723" width="2.2" height="2.2"/><rect x="229.1" y="685.3" width="1.9" height="1.9"/><rect x="170.5" y="699" width="2.2" height="2.2"/><rect x="326" y="678.6" width="2" height="2"/><rect x="97.9" y="722.5" width="1.4" height="1.4"/><rect x="163.5" y="704" width="2" height="2"/><rect x="356.6" y="674.2" width="1.7" height="1.7"/><rect x="170.7" y="708.8" width="2" height="2"/><rect x="77.1" y="726.9" width="2.2" height="2.2"/><rect x="78.9" y="717.7" width="1.9" height="1.9"/><rect x="249.8" y="701.3" width="2" height="2"/><rect x="367.5" y="651.4" width="1.4" height="1.4"/><rect x="343" y="653.7" width="2.4" height="2.4"/><rect x="55.2" y="727.4" width="1.4" height="1.4"/><rect x="116.5" y="725.7" width="2.2" height="2.2"/><rect x="199" y="687.5" width="1.7" height="1.7"/><rect x="291" y="669.2" width="1.4" height="1.4"/><rect x="204" y="712.4" width="2.2" height="2.2"/><rect x="371.9" y="656" width="1.9" height="1.9"/><rect x="301.9" y="671.6" width="1.7" height="1.7"/><rect x="280.8" y="667.8" width="1.4" height="1.4"/><rect x="328.5" y="684.4" width="2.4" height="2.4"/><rect x="261.2" y="684.4" width="1.9" height="1.9"/><rect x="191.1" y="687.6" width="1.9" height="1.9"/><rect x="393.3" y="671.7" width="1.4" height="1.4"/><rect x="138.5" y="721" width="2.2" height="2.2"/><rect x="357.1" y="664.5" width="1.9" height="1.9"/><rect x="141.7" y="712.8" width="1.9" height="1.9"/><rect x="120.5" y="711.7" width="1.9" height="1.9"/><rect x="81.7" y="732.2" width="1.4" height="1.4"/><rect x="280.8" y="686.1" width="1.7" height="1.7"/><rect x="188.2" y="695.6" width="1.9" height="1.9"/><rect x="116.1" y="726" width="2.2" height="2.2"/><rect x="366.3" y="657.5" width="1.9" height="1.9"/><rect x="85.7" y="726.9" width="2.2" height="2.2"/><rect x="82.6" y="715.5" width="1.7" height="1.7"/><rect x="192.2" y="693.6" width="1.4" height="1.4"/><rect x="308.1" y="661.4" width="1.4" height="1.4"/><rect x="153" y="718.1" width="2" height="2"/><rect x="216" y="706.6" width="1.4" height="1.4"/><rect x="227.5" y="702.1" width="1.4" height="1.4"/><rect x="230.3" y="697.6" width="1.7" height="1.7"/><rect x="324.8" y="687" width="1.9" height="1.9"/><rect x="158.2" y="714.4" width="2.2" height="2.2"/><rect x="153.9" y="721" width="1.7" height="1.7"/><rect x="243.1" y="696.6" width="1.9" height="1.9"/><rect x="340.6" y="672.6" width="2.4" height="2.4"/><rect x="371.1" y="672.6" width="2.4" height="2.4"/><rect x="399.4" y="647.5" width="1.9" height="1.9"/><rect x="203.2" y="687.9" width="2.4" height="2.4"/><rect x="355.2" y="658.2" width="1.4" height="1.4"/><rect x="291.5" y="677.8" width="2" height="2"/><rect x="244.4" y="690.8" width="2.2" height="2.2"/><rect x="210.5" y="693.6" width="1.9" height="1.9"/><rect x="110.7" y="717.7" width="2.4" height="2.4"/><rect x="380.2" y="674.8" width="1.4" height="1.4"/><rect x="72.1" y="721.9" width="1.7" height="1.7"/><rect x="260.1" y="675.2" width="1.9" height="1.9"/><rect x="190.8" y="698" width="2.2" height="2.2"/><rect x="81.6" y="723.9" width="1.7" height="1.7"/><rect x="237.2" y="691.1" width="2.4" height="2.4"/><rect x="375.8" y="674.3" width="2.4" height="2.4"/><rect x="308.9" y="667.8" width="2" height="2"/><rect x="293.2" y="692.9" width="2.4" height="2.4"/><rect x="195.9" y="701.7" width="2.4" height="2.4"/><rect x="374.9" y="654.8" width="2.4" height="2.4"/></g>
<path d="M50,714.6 L404,639.4" stroke="#c4c4c4" stroke-width="1.5" fill="none"/>
<path d="M50,747.6 L404,671.4" stroke="#1e1e1e" stroke-width="4" fill="none"/>
<path d="M50,409 C120,396 180,378 220,371 C280,362 330,344 404,331" stroke="#fff" stroke-width="1.3" fill="none"/>
<path d="M50,296.6 L404,226.9" stroke="#231f20" stroke-width="3.8" fill="none"/><path d="M50,296.6 L404,226.9" stroke="#fff" stroke-width="0.9" fill="none"/>
<path d="M50,393.9 L404,316.3" stroke="#231f20" stroke-width="3.8" fill="none"/><path d="M50,393.9 L404,316.3" stroke="#fff" stroke-width="0.9" fill="none"/>
<rect x="358" y="210" width="18" height="560" fill="#fff" fill-opacity="0.5"/>
<path d="M358.3,210 V770" stroke="#231f20" stroke-width="1.8"/>
<path d="M375.3,210 V770" stroke="#555" stroke-width="1.5"/>
<g transform="translate(231 430.6) rotate(11)">
<path d="M-22.1,18 L-22.1,199 A22.1,6.5 0 0 0 22.1,199 L22.1,18 Z" fill="#fff" fill-opacity="0.93"/>
<ellipse cx="-1.8" cy="105.8" rx="3.2" ry="2.7" fill="#777" transform="rotate(35 -1.8 105.8)"/><ellipse cx="-11.5" cy="131.4" rx="2" ry="1.8" fill="#231f20" transform="rotate(-28 -11.5 131.4)"/><ellipse cx="-2" cy="61.9" rx="2.2" ry="2.3" fill="#231f20" transform="rotate(36 -2 61.9)"/><ellipse cx="17.8" cy="148.3" rx="2.5" ry="2.3" fill="#231f20" transform="rotate(39 17.8 148.3)"/><ellipse cx="-17.9" cy="102.5" rx="1" ry="0.7" fill="#231f20" transform="rotate(36 -17.9 102.5)"/><ellipse cx="-17.4" cy="95.7" rx="1.9" ry="2" fill="#777" transform="rotate(-11 -17.4 95.7)"/><ellipse cx="5.2" cy="99.5" rx="2.5" ry="2.1" fill="#231f20" transform="rotate(12 5.2 99.5)"/><ellipse cx="18.4" cy="151.5" rx="3" ry="2.8" fill="#231f20" transform="rotate(-11 18.4 151.5)"/><ellipse cx="0.5" cy="50.1" rx="2.3" ry="1.5" fill="#231f20" transform="rotate(-3 0.5 50.1)"/><ellipse cx="-4.2" cy="147.6" rx="3" ry="1.8" fill="#231f20" transform="rotate(-34 -4.2 147.6)"/><ellipse cx="-1.1" cy="149.9" rx="1.8" ry="1.2" fill="#231f20" transform="rotate(-6 -1.1 149.9)"/><ellipse cx="-6" cy="79.7" rx="0.8" ry="0.7" fill="#231f20" transform="rotate(-23 -6 79.7)"/><ellipse cx="-9.4" cy="57.6" rx="1" ry="1" fill="#231f20" transform="rotate(31 -9.4 57.6)"/><ellipse cx="-11.5" cy="100.4" rx="3.4" ry="3.3" fill="#231f20" transform="rotate(9 -11.5 100.4)"/><ellipse cx="-14.2" cy="91.2" rx="1.4" ry="1" fill="#999" transform="rotate(-2 -14.2 91.2)"/><ellipse cx="18.4" cy="49.1" rx="1.3" ry="1.4" fill="#999" transform="rotate(33 18.4 49.1)"/><ellipse cx="-14.8" cy="150.9" rx="1.4" ry="1" fill="#999" transform="rotate(2 -14.8 150.9)"/><ellipse cx="12.2" cy="87.5" rx="1" ry="0.7" fill="#231f20" transform="rotate(-39 12.2 87.5)"/><ellipse cx="3.7" cy="86" rx="2" ry="2.1" fill="#231f20" transform="rotate(33 3.7 86)"/><ellipse cx="-13.5" cy="87.5" rx="2.4" ry="1.8" fill="#231f20" transform="rotate(38 -13.5 87.5)"/><ellipse cx="-9.3" cy="66.9" rx="2.7" ry="2.9" fill="#231f20" transform="rotate(9 -9.3 66.9)"/><ellipse cx="14.1" cy="110.4" rx="1.9" ry="1.2" fill="#231f20" transform="rotate(25 14.1 110.4)"/><ellipse cx="17.1" cy="72" rx="2.6" ry="1.9" fill="#999" transform="rotate(22 17.1 72)"/><ellipse cx="-7.6" cy="65.4" rx="2.7" ry="1.7" fill="#231f20" transform="rotate(21 -7.6 65.4)"/><ellipse cx="2.2" cy="136.5" rx="2.4" ry="1.8" fill="#231f20" transform="rotate(-38 2.2 136.5)"/><ellipse cx="-15.9" cy="90.2" rx="1.4" ry="0.9" fill="#231f20" transform="rotate(7 -15.9 90.2)"/><ellipse cx="1.1" cy="149.2" rx="1" ry="0.7" fill="#231f20" transform="rotate(2 1.1 149.2)"/><ellipse cx="5.8" cy="119.6" rx="2.3" ry="1.6" fill="#231f20" transform="rotate(-38 5.8 119.6)"/><ellipse cx="-0.9" cy="84.5" rx="1.6" ry="1" fill="#999" transform="rotate(-31 -0.9 84.5)"/><ellipse cx="-0.7" cy="123.7" rx="1.6" ry="1.8" fill="#231f20" transform="rotate(17 -0.7 123.7)"/><ellipse cx="1.7" cy="124.4" rx="3.1" ry="3" fill="#231f20" transform="rotate(3 1.7 124.4)"/><ellipse cx="-5.5" cy="118.9" rx="3.1" ry="3.3" fill="#231f20" transform="rotate(-37 -5.5 118.9)"/><ellipse cx="13.4" cy="107.1" rx="2.4" ry="1.9" fill="#999" transform="rotate(-39 13.4 107.1)"/><ellipse cx="4" cy="55.4" rx="2.5" ry="2.7" fill="#231f20" transform="rotate(2 4 55.4)"/><ellipse cx="-4.1" cy="124.2" rx="2.3" ry="1.9" fill="#777" transform="rotate(-30 -4.1 124.2)"/><ellipse cx="0.7" cy="101" rx="1.6" ry="1" fill="#231f20" transform="rotate(-11 0.7 101)"/><ellipse cx="16.9" cy="58.9" rx="2.8" ry="2.6" fill="#231f20" transform="rotate(-8 16.9 58.9)"/><ellipse cx="14.7" cy="85.6" rx="1.2" ry="1.1" fill="#777" transform="rotate(-19 14.7 85.6)"/><ellipse cx="9.4" cy="83" rx="3.2" ry="2.7" fill="#231f20" transform="rotate(1 9.4 83)"/><ellipse cx="-3.5" cy="73.3" rx="2.4" ry="2.5" fill="#231f20" transform="rotate(-13 -3.5 73.3)"/><ellipse cx="-4.3" cy="108.2" rx="1.6" ry="1.1" fill="#231f20" transform="rotate(4 -4.3 108.2)"/><ellipse cx="12.5" cy="136.1" rx="2.6" ry="2.8" fill="#231f20" transform="rotate(-19 12.5 136.1)"/><ellipse cx="-14.3" cy="96.5" rx="3.2" ry="3.3" fill="#231f20" transform="rotate(40 -14.3 96.5)"/><ellipse cx="0.7" cy="117.6" rx="2.7" ry="2.7" fill="#999" transform="rotate(17 0.7 117.6)"/><ellipse cx="-6.6" cy="134" rx="1.5" ry="1.4" fill="#231f20" transform="rotate(33 -6.6 134)"/><ellipse cx="-5.4" cy="115.2" rx="2.3" ry="2.1" fill="#231f20" transform="rotate(18 -5.4 115.2)"/><ellipse cx="-11.5" cy="127.8" rx="1.5" ry="1.5" fill="#231f20" transform="rotate(40 -11.5 127.8)"/><ellipse cx="-14.2" cy="58.4" rx="2.2" ry="2" fill="#231f20" transform="rotate(-31 -14.2 58.4)"/><ellipse cx="6.8" cy="67.9" rx="2" ry="1.4" fill="#231f20" transform="rotate(20 6.8 67.9)"/><ellipse cx="1.3" cy="50.8" rx="1.4" ry="1.4" fill="#777" transform="rotate(26 1.3 50.8)"/><ellipse cx="0" cy="151.7" rx="1.2" ry="1.2" fill="#231f20" transform="rotate(-29 0 151.7)"/><ellipse cx="-3.3" cy="140.7" rx="1.8" ry="1.5" fill="#231f20" transform="rotate(40 -3.3 140.7)"/><ellipse cx="14.3" cy="47.7" rx="2.2" ry="2.1" fill="#777" transform="rotate(3 14.3 47.7)"/><ellipse cx="-1.3" cy="115.4" rx="1.3" ry="1.3" fill="#231f20" transform="rotate(-13 -1.3 115.4)"/><ellipse cx="-9.5" cy="88" rx="1" ry="0.8" fill="#231f20" transform="rotate(-7 -9.5 88)"/><ellipse cx="15.2" cy="136.9" rx="1.7" ry="1.1" fill="#231f20" transform="rotate(3 15.2 136.9)"/><ellipse cx="1.9" cy="127.7" rx="2.1" ry="1.3" fill="#231f20" transform="rotate(14 1.9 127.7)"/><ellipse cx="11.1" cy="65.2" rx="1.7" ry="1.7" fill="#231f20" transform="rotate(20 11.1 65.2)"/><ellipse cx="-13" cy="101.2" rx="2.7" ry="2.7" fill="#231f20" transform="rotate(23 -13 101.2)"/><ellipse cx="2.9" cy="119.4" rx="2.8" ry="2.3" fill="#777" transform="rotate(-3 2.9 119.4)"/><ellipse cx="12.3" cy="106" rx="1.2" ry="1.1" fill="#777" transform="rotate(-8 12.3 106)"/><ellipse cx="-7" cy="87" rx="3" ry="3.1" fill="#231f20" transform="rotate(-2 -7 87)"/><ellipse cx="13" cy="148.7" rx="2.2" ry="1.9" fill="#231f20" transform="rotate(12 13 148.7)"/><ellipse cx="1.3" cy="99.8" rx="2.4" ry="1.5" fill="#231f20" transform="rotate(26 1.3 99.8)"/><ellipse cx="15.4" cy="104.1" rx="3.4" ry="2.2" fill="#231f20" transform="rotate(-19 15.4 104.1)"/><ellipse cx="-16.1" cy="103.6" rx="1.9" ry="2" fill="#231f20" transform="rotate(-6 -16.1 103.6)"/><ellipse cx="-9.4" cy="98.8" rx="1.7" ry="1.8" fill="#231f20" transform="rotate(27 -9.4 98.8)"/><ellipse cx="-6.8" cy="67.1" rx="2.4" ry="2.6" fill="#231f20" transform="rotate(-38 -6.8 67.1)"/><ellipse cx="-17.2" cy="63.3" rx="0.8" ry="0.6" fill="#231f20" transform="rotate(-9 -17.2 63.3)"/><ellipse cx="4.4" cy="58" rx="2.7" ry="1.8" fill="#777" transform="rotate(39 4.4 58)"/><ellipse cx="-9.2" cy="67.8" rx="2.2" ry="1.8" fill="#231f20" transform="rotate(12 -9.2 67.8)"/><ellipse cx="12" cy="111.7" rx="2.2" ry="2.3" fill="#777" transform="rotate(-13 12 111.7)"/><ellipse cx="1.1" cy="136.4" rx="2.4" ry="2.5" fill="#231f20" transform="rotate(40 1.1 136.4)"/><ellipse cx="11.5" cy="141.8" rx="1.6" ry="1.2" fill="#231f20" transform="rotate(-13 11.5 141.8)"/><ellipse cx="10.3" cy="67.4" rx="1.1" ry="1.1" fill="#231f20" transform="rotate(-29 10.3 67.4)"/><ellipse cx="-8.9" cy="57.2" rx="3" ry="2.4" fill="#231f20" transform="rotate(-15 -8.9 57.2)"/><ellipse cx="-3.6" cy="118.9" rx="0.8" ry="0.6" fill="#231f20" transform="rotate(6 -3.6 118.9)"/><ellipse cx="-14.2" cy="100.1" rx="2.8" ry="2.4" fill="#231f20" transform="rotate(-31 -14.2 100.1)"/><ellipse cx="-0.7" cy="49.6" rx="2.8" ry="2.5" fill="#999" transform="rotate(21 -0.7 49.6)"/><ellipse cx="-13.1" cy="66.4" rx="1.3" ry="1.4" fill="#231f20" transform="rotate(-28 -13.1 66.4)"/><ellipse cx="3" cy="61.1" rx="2.6" ry="1.6" fill="#231f20" transform="rotate(1 3 61.1)"/><ellipse cx="-4" cy="91.8" rx="1.7" ry="1.2" fill="#231f20" transform="rotate(-39 -4 91.8)"/><ellipse cx="5" cy="51.3" rx="1.3" ry="1.1" fill="#231f20" transform="rotate(7 5 51.3)"/><ellipse cx="-3.5" cy="67.5" rx="1.2" ry="1.1" fill="#231f20" transform="rotate(1 -3.5 67.5)"/><ellipse cx="14.5" cy="131.2" rx="2.6" ry="2.7" fill="#231f20" transform="rotate(32 14.5 131.2)"/><ellipse cx="3.7" cy="100" rx="3.4" ry="3.4" fill="#231f20" transform="rotate(-5 3.7 100)"/><ellipse cx="15.2" cy="125.2" rx="2.8" ry="2.8" fill="#231f20" transform="rotate(-23 15.2 125.2)"/><ellipse cx="14.7" cy="139.4" rx="2.6" ry="2.6" fill="#231f20" transform="rotate(11 14.7 139.4)"/><ellipse cx="-10.8" cy="66.4" rx="2.9" ry="2.2" fill="#231f20" transform="rotate(-39 -10.8 66.4)"/><ellipse cx="14.4" cy="151" rx="3.1" ry="2" fill="#231f20" transform="rotate(-2 14.4 151)"/><ellipse cx="-6" cy="116.3" rx="2.3" ry="2" fill="#231f20" transform="rotate(25 -6 116.3)"/><ellipse cx="18.5" cy="114.4" rx="2.6" ry="2.6" fill="#999" transform="rotate(-38 18.5 114.4)"/><ellipse cx="-14.3" cy="58.3" rx="1.4" ry="1.2" fill="#777" transform="rotate(-34 -14.3 58.3)"/><ellipse cx="9.7" cy="115" rx="0.8" ry="0.6" fill="#231f20" transform="rotate(3 9.7 115)"/><ellipse cx="1.9" cy="100.3" rx="3.3" ry="2.9" fill="#231f20" transform="rotate(16 1.9 100.3)"/><ellipse cx="11.5" cy="55" rx="2.4" ry="2.3" fill="#231f20" transform="rotate(9 11.5 55)"/><ellipse cx="15.9" cy="63.8" rx="2" ry="1.4" fill="#231f20" transform="rotate(29 15.9 63.8)"/><ellipse cx="4.1" cy="53.1" rx="3.3" ry="2.6" fill="#777" transform="rotate(11 4.1 53.1)"/><ellipse cx="3.6" cy="85.4" rx="1.5" ry="1.4" fill="#777" transform="rotate(-4 3.6 85.4)"/><ellipse cx="6.1" cy="125.5" rx="0.9" ry="0.9" fill="#999" transform="rotate(-35 6.1 125.5)"/><ellipse cx="4.9" cy="89.9" rx="2.6" ry="1.6" fill="#231f20" transform="rotate(10 4.9 89.9)"/><ellipse cx="-16.6" cy="150.8" rx="3.3" ry="2.1" fill="#231f20" transform="rotate(14 -16.6 150.8)"/><ellipse cx="8.1" cy="73.3" rx="2.8" ry="1.7" fill="#231f20" transform="rotate(19 8.1 73.3)"/><ellipse cx="-13.2" cy="147.8" rx="1.4" ry="1.4" fill="#231f20" transform="rotate(39 -13.2 147.8)"/><ellipse cx="-3.1" cy="59.4" rx="3" ry="2.4" fill="#231f20" transform="rotate(-25 -3.1 59.4)"/>
</g>
<clipPath id="tl1"><path d="M50,603.6 L404,533.5 L404,800 L50,800 Z"/></clipPath><g clip-path="url(#tl1)"><g transform="translate(231 430.6) rotate(10.98)"><path d="M-22.1,18 L-22.1,199 A22.1,6.5 0 0 0 22.1,199 L22.1,18 Z" fill="#c8c8c8"/><ellipse cx="4.7" cy="186.5" rx="2.5" ry="2.6" fill="#9f9f9f" transform="rotate(27 4.7 186.5)"/><ellipse cx="-17.9" cy="169.9" rx="2.7" ry="2.5" fill="#a9a9a9" transform="rotate(-26 -17.9 169.9)"/><ellipse cx="-4.9" cy="194.1" rx="1.8" ry="1.2" fill="#a9a9a9" transform="rotate(-39 -4.9 194.1)"/><ellipse cx="8.8" cy="166.5" rx="1.5" ry="1.5" fill="#b0b0b0" transform="rotate(-20 8.8 166.5)"/><ellipse cx="10" cy="146.3" rx="2.2" ry="1.8" fill="#a9a9a9" transform="rotate(-40 10 146.3)"/><ellipse cx="17.9" cy="142.3" rx="2.4" ry="2.6" fill="#a9a9a9" transform="rotate(-19 17.9 142.3)"/><ellipse cx="-8" cy="199.7" rx="2.1" ry="1.9" fill="#a9a9a9" transform="rotate(-17 -8 199.7)"/><ellipse cx="16.8" cy="183.4" rx="2.7" ry="2.9" fill="#b0b0b0" transform="rotate(-38 16.8 183.4)"/><ellipse cx="-5.3" cy="152" rx="1.4" ry="0.9" fill="#b0b0b0" transform="rotate(37 -5.3 152)"/><ellipse cx="3.3" cy="177.8" rx="2.3" ry="1.5" fill="#b0b0b0" transform="rotate(-1 3.3 177.8)"/><ellipse cx="-0.7" cy="160.9" rx="2" ry="1.9" fill="#a9a9a9" transform="rotate(-8 -0.7 160.9)"/><ellipse cx="18.1" cy="143.4" rx="2.4" ry="2.5" fill="#a9a9a9" transform="rotate(30 18.1 143.4)"/><ellipse cx="10.9" cy="164" rx="2.1" ry="1.3" fill="#a9a9a9" transform="rotate(-17 10.9 164)"/><ellipse cx="4.7" cy="199.3" rx="1.4" ry="1" fill="#b0b0b0" transform="rotate(4 4.7 199.3)"/><ellipse cx="0.5" cy="195.6" rx="1.6" ry="1.3" fill="#9f9f9f" transform="rotate(7 0.5 195.6)"/><ellipse cx="13.7" cy="144.2" rx="2.7" ry="1.8" fill="#b0b0b0" transform="rotate(25 13.7 144.2)"/><ellipse cx="4.2" cy="197.1" rx="1.7" ry="1.9" fill="#9f9f9f" transform="rotate(-29 4.2 197.1)"/><ellipse cx="-7.1" cy="161" rx="1.5" ry="0.9" fill="#a9a9a9" transform="rotate(-1 -7.1 161)"/><ellipse cx="18.9" cy="151.7" rx="1.3" ry="1.4" fill="#9f9f9f" transform="rotate(11 18.9 151.7)"/><ellipse cx="-17.8" cy="186.4" rx="1.8" ry="1.3" fill="#9f9f9f" transform="rotate(13 -17.8 186.4)"/><ellipse cx="-13.5" cy="200.7" rx="2.2" ry="2.2" fill="#b0b0b0" transform="rotate(-14 -13.5 200.7)"/><ellipse cx="-14" cy="185.9" rx="2.7" ry="2.5" fill="#b0b0b0" transform="rotate(-27 -14 185.9)"/><ellipse cx="-12.6" cy="164.4" rx="1.3" ry="1" fill="#a9a9a9" transform="rotate(18 -12.6 164.4)"/><ellipse cx="16" cy="179.2" rx="1.5" ry="1.3" fill="#b0b0b0" transform="rotate(0 16 179.2)"/><ellipse cx="-0.8" cy="159.5" rx="1.8" ry="1.2" fill="#b0b0b0" transform="rotate(28 -0.8 159.5)"/><ellipse cx="17.5" cy="179.6" rx="2" ry="1.5" fill="#a9a9a9" transform="rotate(22 17.5 179.6)"/><ellipse cx="-8.7" cy="188.9" rx="2.6" ry="2" fill="#b0b0b0" transform="rotate(35 -8.7 188.9)"/><ellipse cx="6.2" cy="187.6" rx="1.8" ry="1.7" fill="#b0b0b0" transform="rotate(22 6.2 187.6)"/><ellipse cx="-8.9" cy="200.9" rx="2.3" ry="2.5" fill="#b0b0b0" transform="rotate(-18 -8.9 200.9)"/><ellipse cx="3.1" cy="142.7" rx="2.1" ry="1.5" fill="#9f9f9f" transform="rotate(-5 3.1 142.7)"/><ellipse cx="-1.4" cy="191" rx="2.2" ry="2.2" fill="#b0b0b0" transform="rotate(-5 -1.4 191)"/><ellipse cx="5.5" cy="186.3" rx="2.5" ry="2" fill="#a9a9a9" transform="rotate(17 5.5 186.3)"/><ellipse cx="18.1" cy="199.4" rx="2" ry="1.8" fill="#a9a9a9" transform="rotate(-15 18.1 199.4)"/><ellipse cx="12.8" cy="198.2" rx="2" ry="1.9" fill="#9f9f9f" transform="rotate(13 12.8 198.2)"/><ellipse cx="-12.5" cy="188.8" rx="2.1" ry="2" fill="#b0b0b0" transform="rotate(-2 -12.5 188.8)"/><ellipse cx="4.7" cy="188.5" rx="2.2" ry="2.1" fill="#a9a9a9" transform="rotate(-15 4.7 188.5)"/><ellipse cx="-12.9" cy="168.5" rx="2.2" ry="1.6" fill="#9f9f9f" transform="rotate(-17 -12.9 168.5)"/><ellipse cx="5" cy="144.5" rx="2" ry="1.4" fill="#a9a9a9" transform="rotate(-23 5 144.5)"/><ellipse cx="-14.8" cy="200.1" rx="2" ry="1.7" fill="#b0b0b0" transform="rotate(19 -14.8 200.1)"/><ellipse cx="-5.7" cy="181.8" rx="1.3" ry="0.9" fill="#9f9f9f" transform="rotate(7 -5.7 181.8)"/><ellipse cx="-19" cy="166.3" rx="1.6" ry="1.3" fill="#a9a9a9" transform="rotate(30 -19 166.3)"/><ellipse cx="-4.8" cy="144.2" rx="2.2" ry="1.4" fill="#9f9f9f" transform="rotate(25 -4.8 144.2)"/><ellipse cx="-6.1" cy="176.9" rx="2.7" ry="2.8" fill="#b0b0b0" transform="rotate(12 -6.1 176.9)"/><ellipse cx="11.9" cy="180.5" rx="1.8" ry="1.2" fill="#9f9f9f" transform="rotate(8 11.9 180.5)"/><ellipse cx="2.4" cy="199.4" rx="2.7" ry="2.5" fill="#b0b0b0" transform="rotate(-40 2.4 199.4)"/><ellipse cx="-4.5" cy="161.6" rx="2.7" ry="2.3" fill="#b0b0b0" transform="rotate(40 -4.5 161.6)"/><ellipse cx="14.3" cy="175.9" rx="1.9" ry="2.1" fill="#b0b0b0" transform="rotate(-3 14.3 175.9)"/><ellipse cx="-0.8" cy="184.5" rx="1.8" ry="1.9" fill="#a9a9a9" transform="rotate(36 -0.8 184.5)"/></g></g>
<g transform="translate(231 430.6) rotate(11)">
<path d="M-22.1,18 L-22.1,199 A22.1,6.5 0 0 0 22.1,199 L22.1,18" fill="none" stroke="#231f20" stroke-width="1.6"/>
<ellipse cx="0" cy="199" rx="22.1" ry="6.5" fill="none" stroke="#555" stroke-width="1"/>
<path d="M-24.2,0 L-24.2,19.5 A24.2,9.5 0 0 0 24.2,19.5 L24.2,0 Z" fill="#b7b7b7" stroke="#3a3a3a" stroke-width="1.3" transform="translate(-2 1.5)"/><ellipse cx="-2" cy="1.5" rx="24.2" ry="9.5" fill="#d2d2d2" stroke="#3a3a3a" stroke-width="1.3"/><ellipse cx="-0.5" cy="-1.9" rx="14.5" ry="5.6" fill="#c4c4c4" stroke="#3a3a3a" stroke-width="1.2"/>
</g>
<mask id="mt1" maskUnits="userSpaceOnUse" x="0" y="0" width="1080" height="1080"><rect width="1080" height="1080" fill="#fff"/><path d="M229.8,432 Q243,330 263.5,205" stroke="#000" stroke-width="15.4" fill="none"/></mask><path d="M229.8,432 Q243,330 263.5,205" stroke="#fff" stroke-opacity="0.55" stroke-width="16.5" fill="none"/><path d="M229.8,432 Q243,330 263.5,205" stroke="#231f20" stroke-width="18.2" fill="none" mask="url(#mt1)"/>
<path d="M179.6,477.4 L184,505.5 L181,503.5 L171,566 L172.5,568 L160.8,583.6 L155,554.4 L160.5,556 L170.5,492.5 L167,491.3 Z" fill="#231f20"/>
<path d="M258.75,490.6 L263.6,517.6 L259.5,515 L249.5,578 L251.8,580.8 L240.7,594 L235.6,567.6 L240,569 L249.5,505 L246.7,504.2 Z" fill="#231f20"/>
</g>
<rect x="50" y="217.2" width="353.5" height="541.3" rx="21" fill="none" stroke="#3b3b3d" stroke-width="5.5"/></g>
<g id="p2"><rect x="468.3" y="214.5" width="358.7" height="546.8" rx="23" fill="#fff"/>
<g clip-path="url(#c2)">
<path d="M471,333.5 C478.3,331.1 496.8,323.2 515,319 C533.2,314.8 555.8,312.1 580,308 C604.2,303.9 630,300.5 660,294.5 C690,288.5 732.5,278.4 760,272 C787.5,265.6 814.2,258.7 825,256 L825,690.7 L471,768.4 Z" fill="#e9e9e9"/>
<path d="M471,622.6 C478.4,621.4 500.5,618.4 515.2,615.2 C530,612 544.8,606.3 559.5,603.3 C574.2,600.3 589,600.1 603.8,597.1 C618.5,594.1 633.2,588.3 648,585.2 C662.8,582.2 677.5,582 692.2,579 C707,576 721.8,570.2 736.5,567.2 C751.2,564.2 766,563.7 780.8,560.9 C795.5,558.1 817.6,552.1 825,550.3 L825,690.7 L471,768.4 Z" fill="url(#grv2)"/>
<path d="M471,622.6 C478.4,621.4 500.5,618.4 515.2,615.2 C530,612 544.8,606.3 559.5,603.3 C574.2,600.3 589,600.1 603.8,597.1 C618.5,594.1 633.2,588.3 648,585.2 C662.8,582.2 677.5,582 692.2,579 C707,576 721.8,570.2 736.5,567.2 C751.2,564.2 766,563.7 780.8,560.9 C795.5,558.1 817.6,552.1 825,550.3 L825,563.3 C817.6,565.1 795.5,571.1 780.8,573.9 C766,576.7 751.2,577.2 736.5,580.2 C721.8,583.2 707,589 692.2,592 C677.5,595 662.8,595.2 648,598.2 C633.2,601.3 618.5,607.1 603.8,610.1 C589,613.1 574.2,613.3 559.5,616.3 C544.8,619.3 530,625 515.2,628.2 C500.5,631.4 478.4,634.4 471,635.6 Z" fill="#000" fill-opacity="0.13"/>
<path d="M471,734.7 L825,657.2 L825,690.7 L471,768.4 Z" fill="#b2b2b2"/>
<g fill="#3a3a3a"><rect x="809.4" y="691.5" width="1.4" height="1.4"/><rect x="503.4" y="740" width="1.7" height="1.7"/><rect x="731.5" y="699.8" width="1.9" height="1.9"/><rect x="560.1" y="722.9" width="1.4" height="1.4"/><rect x="676.7" y="695.7" width="2" height="2"/><rect x="697" y="711.6" width="2.2" height="2.2"/><rect x="807.1" y="679.3" width="2" height="2"/><rect x="648.7" y="725.3" width="1.4" height="1.4"/><rect x="599.9" y="736.9" width="2" height="2"/><rect x="621" y="730.8" width="1.7" height="1.7"/><rect x="669.4" y="699.7" width="1.4" height="1.4"/><rect x="533.6" y="727.5" width="2.2" height="2.2"/><rect x="651.6" y="727.7" width="2.4" height="2.4"/><rect x="669.2" y="723.7" width="2" height="2"/><rect x="753.1" y="697.1" width="1.9" height="1.9"/><rect x="750.6" y="685.7" width="2" height="2"/><rect x="528.1" y="747.1" width="2.4" height="2.4"/><rect x="732.5" y="699.1" width="1.7" height="1.7"/><rect x="644.5" y="726.9" width="2.2" height="2.2"/><rect x="653.4" y="720.9" width="2.4" height="2.4"/><rect x="783.5" y="695.7" width="2" height="2"/><rect x="595.2" y="731.5" width="2.2" height="2.2"/><rect x="727.2" y="695" width="1.7" height="1.7"/><rect x="804" y="688.5" width="1.7" height="1.7"/><rect x="781.4" y="687.2" width="2" height="2"/><rect x="580.6" y="742" width="2.4" height="2.4"/><rect x="765.2" y="689" width="2.2" height="2.2"/><rect x="701.6" y="703.8" width="1.9" height="1.9"/><rect x="729.7" y="694.5" width="1.9" height="1.9"/><rect x="801.7" y="683" width="1.4" height="1.4"/><rect x="748.6" y="685.7" width="1.4" height="1.4"/><rect x="792.3" y="671.4" width="2.4" height="2.4"/><rect x="508.6" y="745.6" width="1.4" height="1.4"/><rect x="567.7" y="721.7" width="1.4" height="1.4"/><rect x="738" y="681.6" width="1.9" height="1.9"/><rect x="557.7" y="723.4" width="1.4" height="1.4"/><rect x="620.7" y="725.6" width="1.4" height="1.4"/><rect x="491.1" y="742.7" width="1.7" height="1.7"/><rect x="709.2" y="686.2" width="1.4" height="1.4"/><rect x="480" y="756.8" width="1.4" height="1.4"/><rect x="603.1" y="710.8" width="1.7" height="1.7"/><rect x="731.1" y="695.3" width="1.4" height="1.4"/><rect x="607.5" y="707.2" width="1.7" height="1.7"/><rect x="524.6" y="725.1" width="1.9" height="1.9"/><rect x="803.2" y="682.8" width="2.4" height="2.4"/><rect x="511" y="737.6" width="1.4" height="1.4"/><rect x="580.2" y="729.2" width="2.2" height="2.2"/><rect x="732.9" y="706.8" width="2" height="2"/><rect x="776.3" y="691.1" width="2" height="2"/><rect x="810.4" y="664.4" width="2.4" height="2.4"/><rect x="583" y="714.4" width="2" height="2"/><rect x="750.1" y="704.5" width="2.2" height="2.2"/><rect x="678.1" y="702.8" width="2.2" height="2.2"/><rect x="587.1" y="737.9" width="1.9" height="1.9"/><rect x="562.7" y="734.8" width="2" height="2"/><rect x="702.3" y="707.2" width="1.7" height="1.7"/><rect x="708.4" y="691.7" width="1.7" height="1.7"/><rect x="528.1" y="726.2" width="2.4" height="2.4"/><rect x="553" y="746.7" width="2.4" height="2.4"/><rect x="801.7" y="694.7" width="1.7" height="1.7"/><rect x="723.7" y="682.7" width="1.4" height="1.4"/><rect x="680.3" y="709.6" width="2.2" height="2.2"/><rect x="722.2" y="688.8" width="2" height="2"/><rect x="569.7" y="737.8" width="1.7" height="1.7"/><rect x="483.6" y="745.9" width="1.4" height="1.4"/><rect x="652.3" y="698.8" width="1.4" height="1.4"/><rect x="506.3" y="733.7" width="1.7" height="1.7"/><rect x="508.2" y="728.3" width="2.4" height="2.4"/><rect x="635.4" y="709.5" width="2.4" height="2.4"/><rect x="605.5" y="727.9" width="1.7" height="1.7"/><rect x="729" y="692.9" width="2.2" height="2.2"/><rect x="478.5" y="752.7" width="2" height="2"/><rect x="799.8" y="682.1" width="1.4" height="1.4"/><rect x="705.8" y="699.4" width="1.4" height="1.4"/><rect x="654.8" y="724.6" width="2.2" height="2.2"/><rect x="600.7" y="729.1" width="1.9" height="1.9"/><rect x="580.1" y="739.5" width="2" height="2"/><rect x="506.8" y="737.5" width="2.4" height="2.4"/><rect x="763.2" y="697.4" width="1.4" height="1.4"/><rect x="616.4" y="719.2" width="1.7" height="1.7"/><rect x="785.9" y="686.1" width="1.4" height="1.4"/><rect x="571.7" y="725.4" width="2.4" height="2.4"/><rect x="498.1" y="753.7" width="1.7" height="1.7"/><rect x="512" y="738.5" width="2.4" height="2.4"/><rect x="635" y="723.6" width="2" height="2"/><rect x="785.2" y="674.9" width="1.4" height="1.4"/><rect x="499.5" y="756.4" width="2.4" height="2.4"/><rect x="609.5" y="712.1" width="1.4" height="1.4"/><rect x="479.7" y="754.6" width="1.4" height="1.4"/><rect x="727.1" y="695.4" width="1.9" height="1.9"/><rect x="810.7" y="665.8" width="1.9" height="1.9"/><rect x="566.2" y="731.5" width="2" height="2"/><rect x="725.7" y="702.9" width="2" height="2"/><rect x="800.9" y="689.8" width="1.9" height="1.9"/><rect x="610.7" y="710" width="2.2" height="2.2"/><rect x="562.8" y="729.1" width="2.4" height="2.4"/><rect x="718.5" y="684.2" width="2.4" height="2.4"/><rect x="760.5" y="675.4" width="1.9" height="1.9"/><rect x="533.4" y="739.3" width="2" height="2"/><rect x="789" y="691.3" width="2.4" height="2.4"/><rect x="821" y="679.5" width="1.7" height="1.7"/><rect x="815.8" y="672.6" width="2.4" height="2.4"/><rect x="708.4" y="705.2" width="2" height="2"/><rect x="532.1" y="731.4" width="1.7" height="1.7"/><rect x="662.5" y="723.8" width="2" height="2"/><rect x="505" y="744.6" width="2.4" height="2.4"/><rect x="653" y="701.2" width="1.7" height="1.7"/><rect x="634.2" y="722.2" width="2" height="2"/><rect x="780.6" y="679.3" width="2.2" height="2.2"/><rect x="729" y="693.9" width="2.4" height="2.4"/><rect x="481.4" y="752.2" width="2.4" height="2.4"/><rect x="534.9" y="737.8" width="2" height="2"/><rect x="568" y="722.5" width="2.4" height="2.4"/><rect x="802.6" y="685.4" width="2" height="2"/><rect x="598.5" y="725.1" width="2.4" height="2.4"/><rect x="734.9" y="698.7" width="2.4" height="2.4"/><rect x="550.6" y="737.9" width="2" height="2"/><rect x="760" y="684.5" width="2.4" height="2.4"/><rect x="794.9" y="674.7" width="2.2" height="2.2"/><rect x="722.9" y="708.4" width="2.4" height="2.4"/><rect x="533.8" y="724.9" width="2" height="2"/><rect x="804.9" y="685.6" width="2.2" height="2.2"/><rect x="607.6" y="712.6" width="1.4" height="1.4"/><rect x="609.1" y="723.1" width="1.7" height="1.7"/><rect x="568.1" y="743.6" width="2.2" height="2.2"/><rect x="538.8" y="746.3" width="1.7" height="1.7"/><rect x="474" y="756.5" width="2" height="2"/><rect x="560.8" y="733.9" width="2" height="2"/><rect x="723.3" y="711.2" width="1.4" height="1.4"/><rect x="595" y="737.2" width="2.2" height="2.2"/><rect x="767.4" y="691.6" width="2.2" height="2.2"/><rect x="642.7" y="719.4" width="1.9" height="1.9"/><rect x="633.6" y="727.8" width="2" height="2"/><rect x="480.7" y="736.1" width="1.9" height="1.9"/><rect x="532.5" y="746" width="2" height="2"/><rect x="561.4" y="735.7" width="2.4" height="2.4"/><rect x="518.7" y="730.4" width="2" height="2"/><rect x="822.3" y="680.1" width="1.7" height="1.7"/><rect x="474.7" y="752.5" width="1.4" height="1.4"/><rect x="600.7" y="724.3" width="2" height="2"/><rect x="670.8" y="698.4" width="2.4" height="2.4"/><rect x="580.2" y="732.3" width="2" height="2"/><rect x="715.1" y="704.7" width="1.9" height="1.9"/><rect x="498.2" y="755.8" width="1.9" height="1.9"/><rect x="589.1" y="739.8" width="1.9" height="1.9"/><rect x="702.3" y="697.5" width="1.4" height="1.4"/><rect x="651" y="702.9" width="2.2" height="2.2"/><rect x="658.8" y="721.5" width="2.2" height="2.2"/><rect x="693.6" y="696.7" width="1.7" height="1.7"/><rect x="807.2" y="679.8" width="2.2" height="2.2"/></g>
<path d="M471,734.7 L825,657.2" stroke="#c4c4c4" stroke-width="1.5" fill="none"/>
<path d="M471,768.4 L825,690.7" stroke="#1e1e1e" stroke-width="4" fill="none"/>
<path d="M471,441 C520,432 545,424 560,420.7 C640,404 700,382 760,369.8 C790,364 810,358 825,355" stroke="#fff" stroke-width="1.3" fill="none"/>
<path d="M471,313.9 L825,247.1" stroke="#231f20" stroke-width="3.8" fill="none"/><path d="M471,313.9 L825,247.1" stroke="#fff" stroke-width="0.9" fill="none"/>
<path d="M471,414.2 L825,335.2" stroke="#231f20" stroke-width="3.8" fill="none"/><path d="M471,414.2 L825,335.2" stroke="#fff" stroke-width="0.9" fill="none"/>
<g transform="translate(663.2 360.6) rotate(10.8)">
<path d="M-21.7,18 L-21.7,201.6 A21.7,6 0 0 0 21.7,201.6 L21.7,18 Z" fill="#fff" fill-opacity="0.9"/>
<ellipse cx="-9.9" cy="70" rx="1.3" ry="1.1" fill="#b5b5b5" transform="rotate(20 -9.9 70)"/><ellipse cx="10" cy="59.7" rx="1.2" ry="0.8" fill="#b5b5b5" transform="rotate(-39 10 59.7)"/><ellipse cx="-3.5" cy="64" rx="0.7" ry="0.7" fill="#b5b5b5" transform="rotate(-11 -3.5 64)"/><ellipse cx="6.5" cy="55.3" rx="1.7" ry="1.7" fill="#c2c2c2" transform="rotate(38 6.5 55.3)"/><ellipse cx="-1.3" cy="85.5" rx="1.2" ry="1.1" fill="#a8a8a8" transform="rotate(7 -1.3 85.5)"/><ellipse cx="-14.3" cy="73" rx="0.7" ry="0.7" fill="#b5b5b5" transform="rotate(18 -14.3 73)"/><ellipse cx="-10" cy="72.3" rx="1" ry="0.7" fill="#a8a8a8" transform="rotate(-36 -10 72.3)"/><ellipse cx="-0.4" cy="77.6" rx="0.7" ry="0.5" fill="#a8a8a8" transform="rotate(34 -0.4 77.6)"/><ellipse cx="15.7" cy="34.1" rx="1.2" ry="1.1" fill="#c2c2c2" transform="rotate(-15 15.7 34.1)"/><ellipse cx="-4.4" cy="38.5" rx="1.2" ry="0.9" fill="#c2c2c2" transform="rotate(24 -4.4 38.5)"/><ellipse cx="-3" cy="87.7" rx="1" ry="0.6" fill="#b5b5b5" transform="rotate(-20 -3 87.7)"/><ellipse cx="7.3" cy="87.6" rx="1.1" ry="1" fill="#a8a8a8" transform="rotate(36 7.3 87.6)"/><ellipse cx="8.2" cy="42.9" rx="1.3" ry="1.1" fill="#a8a8a8" transform="rotate(-26 8.2 42.9)"/><ellipse cx="-9.4" cy="39.9" rx="1" ry="1" fill="#c2c2c2" transform="rotate(36 -9.4 39.9)"/><ellipse cx="13.8" cy="44.3" rx="0.8" ry="0.8" fill="#b5b5b5" transform="rotate(14 13.8 44.3)"/><ellipse cx="-3.4" cy="69.6" rx="1.3" ry="1.4" fill="#b5b5b5" transform="rotate(12 -3.4 69.6)"/><ellipse cx="13.5" cy="39.5" rx="1.4" ry="0.9" fill="#c2c2c2" transform="rotate(22 13.5 39.5)"/><ellipse cx="0.7" cy="68.7" rx="1.6" ry="1.2" fill="#a8a8a8" transform="rotate(-32 0.7 68.7)"/><ellipse cx="-1.4" cy="53.6" rx="1.4" ry="0.9" fill="#c2c2c2" transform="rotate(-34 -1.4 53.6)"/><ellipse cx="11.5" cy="68.2" rx="0.6" ry="0.5" fill="#c2c2c2" transform="rotate(-32 11.5 68.2)"/><ellipse cx="12" cy="67.4" rx="0.8" ry="0.5" fill="#a8a8a8" transform="rotate(21 12 67.4)"/><ellipse cx="-13.5" cy="38.1" rx="1.3" ry="1.4" fill="#c2c2c2" transform="rotate(-37 -13.5 38.1)"/><ellipse cx="14.5" cy="82.2" rx="1" ry="0.7" fill="#c2c2c2" transform="rotate(36 14.5 82.2)"/><ellipse cx="9" cy="58.1" rx="1.6" ry="1.3" fill="#b5b5b5" transform="rotate(28 9 58.1)"/><ellipse cx="3.2" cy="38.1" rx="1.4" ry="1.1" fill="#b5b5b5" transform="rotate(-37 3.2 38.1)"/><ellipse cx="-6.8" cy="48.9" rx="0.9" ry="0.9" fill="#c2c2c2" transform="rotate(-8 -6.8 48.9)"/><ellipse cx="6.2" cy="73.6" rx="1.5" ry="1" fill="#b5b5b5" transform="rotate(-28 6.2 73.6)"/><ellipse cx="-2.7" cy="40.8" rx="1.3" ry="1.3" fill="#b5b5b5" transform="rotate(-25 -2.7 40.8)"/><ellipse cx="5.3" cy="37.3" rx="1.2" ry="0.9" fill="#c2c2c2" transform="rotate(-12 5.3 37.3)"/><ellipse cx="4.3" cy="40.5" rx="1.5" ry="1.1" fill="#a8a8a8" transform="rotate(30 4.3 40.5)"/><ellipse cx="8.5" cy="65" rx="1.2" ry="1.1" fill="#b5b5b5" transform="rotate(-39 8.5 65)"/><ellipse cx="-3" cy="80.1" rx="1" ry="0.9" fill="#a8a8a8" transform="rotate(-11 -3 80.1)"/><ellipse cx="-7.2" cy="70.4" rx="0.9" ry="0.6" fill="#c2c2c2" transform="rotate(-21 -7.2 70.4)"/><ellipse cx="-5.4" cy="82.2" rx="0.9" ry="0.8" fill="#a8a8a8" transform="rotate(22 -5.4 82.2)"/><ellipse cx="14.4" cy="35.7" rx="1.3" ry="1.1" fill="#a8a8a8" transform="rotate(1 14.4 35.7)"/><ellipse cx="15" cy="48" rx="1.4" ry="1.2" fill="#a8a8a8" transform="rotate(-16 15 48)"/><ellipse cx="-13" cy="77.3" rx="1.7" ry="1.3" fill="#c2c2c2" transform="rotate(13 -13 77.3)"/><ellipse cx="-11.7" cy="34.4" rx="0.7" ry="0.7" fill="#c2c2c2" transform="rotate(24 -11.7 34.4)"/><ellipse cx="4.3" cy="31.1" rx="1.3" ry="1.1" fill="#a8a8a8" transform="rotate(25 4.3 31.1)"/><ellipse cx="-2.9" cy="53.3" rx="0.8" ry="0.5" fill="#c2c2c2" transform="rotate(-35 -2.9 53.3)"/><ellipse cx="-7.3" cy="70.8" rx="1.5" ry="1.4" fill="#c2c2c2" transform="rotate(-10 -7.3 70.8)"/><ellipse cx="-2.6" cy="49" rx="0.9" ry="0.9" fill="#a8a8a8" transform="rotate(-30 -2.6 49)"/><ellipse cx="-13.8" cy="40" rx="1" ry="0.9" fill="#b5b5b5" transform="rotate(17 -13.8 40)"/><ellipse cx="4.4" cy="74" rx="1.3" ry="1.4" fill="#a8a8a8" transform="rotate(-7 4.4 74)"/><ellipse cx="-7.4" cy="83.2" rx="1" ry="0.9" fill="#a8a8a8" transform="rotate(-40 -7.4 83.2)"/><ellipse cx="-10" cy="41.7" rx="1.6" ry="1.5" fill="#b5b5b5" transform="rotate(30 -10 41.7)"/><ellipse cx="-9.6" cy="60.3" rx="1.3" ry="1" fill="#a8a8a8" transform="rotate(19 -9.6 60.3)"/><ellipse cx="15.5" cy="87.5" rx="0.8" ry="0.6" fill="#a8a8a8" transform="rotate(2 15.5 87.5)"/><ellipse cx="-3.5" cy="63.7" rx="0.8" ry="0.5" fill="#b5b5b5" transform="rotate(1 -3.5 63.7)"/><ellipse cx="1" cy="84.8" rx="1.7" ry="1.7" fill="#a8a8a8" transform="rotate(-15 1 84.8)"/><ellipse cx="-7.6" cy="69.9" rx="1.4" ry="0.9" fill="#c2c2c2" transform="rotate(19 -7.6 69.9)"/><ellipse cx="-2.5" cy="56.7" rx="1.3" ry="1.2" fill="#a8a8a8" transform="rotate(9 -2.5 56.7)"/><ellipse cx="4.3" cy="35.7" rx="1.7" ry="1.2" fill="#c2c2c2" transform="rotate(40 4.3 35.7)"/><ellipse cx="14" cy="70.9" rx="0.6" ry="0.5" fill="#b5b5b5" transform="rotate(10 14 70.9)"/><ellipse cx="3.8" cy="70.6" rx="0.9" ry="0.5" fill="#a8a8a8" transform="rotate(-22 3.8 70.6)"/>
<path d="M-21.7,18 L-21.7,201.6 A21.7,6 0 0 0 21.7,201.6 L21.7,18" fill="none" stroke="#231f20" stroke-width="1.6"/>
<ellipse cx="0" cy="201.6" rx="21.7" ry="6" fill="#f2f2f2" stroke="#231f20" stroke-width="1.1"/>
<ellipse cx="-9" cy="201.1" rx="3" ry="2.3" fill="#777"/>
<ellipse cx="6" cy="204.1" rx="2" ry="1.6" fill="#888"/>
<path d="M-24.2,0 L-24.2,19.5 A24.2,9.5 0 0 0 24.2,19.5 L24.2,0 Z" fill="#b7b7b7" stroke="#3a3a3a" stroke-width="1.3" transform="translate(-1.2 2.5)"/><ellipse cx="-1.2" cy="2.5" rx="24.2" ry="9.5" fill="#d2d2d2" stroke="#3a3a3a" stroke-width="1.3"/><ellipse cx="0.3" cy="-0.9" rx="14.5" ry="5.6" fill="#c4c4c4" stroke="#3a3a3a" stroke-width="1.2"/>
</g>
<mask id="mt2" maskUnits="userSpaceOnUse" x="0" y="0" width="1080" height="1080"><rect width="1080" height="1080" fill="#fff"/><path d="M662.4,363.5 L679.3,274 C683,255 694,237 730.7,237 C769,237 783,256 783.3,285 L789.4,770" stroke="#000" stroke-width="15.4" fill="none"/></mask><path d="M662.4,363.5 L679.3,274 C683,255 694,237 730.7,237 C769,237 783,256 783.3,285 L789.4,770" stroke="#fff" stroke-opacity="0.55" stroke-width="16.5" fill="none"/><path d="M662.4,363.5 L679.3,274 C683,255 694,237 730.7,237 C769,237 783,256 783.3,285 L789.4,770" stroke="#231f20" stroke-width="18.2" fill="none" mask="url(#mt2)"/>
<path d="M630,378.7 L690,365.3" stroke="#231f20" stroke-width="2.6" fill="none"/><path d="M630,378.7 L690,365.3" stroke="#fff" stroke-width="0.9" fill="none"/>
<path d="M614.8,398.3 L618.9,426.7 L615.2,425.2 L604.8,485.6 L594.8,475 L605.4,414.5 L602.2,412.8 Z" fill="#231f20"/>
<path d="M672.3,491.4 L681.7,499.9 L671.1,562 L673.8,563.2 L660.9,581.1 L656.7,551 L661.5,553.4 Z" fill="#231f20"/>
<text transform="translate(609.9 459.5) rotate(-80)" font-size="9.6" font-weight="bold" fill="#fff" textLength="31" lengthAdjust="spacingAndGlyphs">DEBRIS</text>
<text transform="translate(671.2 542.5) rotate(-80.3)" font-size="9.6" font-weight="bold" fill="#fff" textLength="30" lengthAdjust="spacingAndGlyphs">GRAVEL</text>
<ellipse cx="603.7" cy="560" rx="3.7" ry="2.9" fill="#231f20" transform="rotate(-20 603.7 560)"/>
<ellipse cx="619.4" cy="567.3" rx="3.9" ry="3.1" fill="#231f20" transform="rotate(-20 619.4 567.3)"/>
<ellipse cx="635.6" cy="569.7" rx="3.4" ry="2.6" fill="#231f20" transform="rotate(-20 635.6 569.7)"/>
<ellipse cx="603.7" cy="570.3" rx="3.6" ry="2.8" fill="#231f20" transform="rotate(-20 603.7 570.3)"/>
<ellipse cx="610.9" cy="576.9" rx="4.3" ry="3.4" fill="#231f20" transform="rotate(-20 610.9 576.9)"/>
<ellipse cx="626.6" cy="575.1" rx="3.4" ry="2.6" fill="#231f20" transform="rotate(-20 626.6 575.1)"/>
<ellipse cx="635.6" cy="579.3" rx="4.1" ry="3.2" fill="#231f20" transform="rotate(-20 635.6 579.3)"/>
<ellipse cx="598.3" cy="581.7" rx="3.2" ry="2.5" fill="#231f20" transform="rotate(-20 598.3 581.7)"/>
<ellipse cx="588.1" cy="583.5" rx="3.6" ry="2.8" fill="#231f20" transform="rotate(-20 588.1 583.5)"/>
<ellipse cx="616.3" cy="585.9" rx="3.2" ry="2.5" fill="#231f20" transform="rotate(-20 616.3 585.9)"/>
<ellipse cx="627.2" cy="585.9" rx="3.4" ry="2.6" fill="#231f20" transform="rotate(-20 627.2 585.9)"/>
<ellipse cx="637.4" cy="588.9" rx="3.4" ry="2.6" fill="#231f20" transform="rotate(-20 637.4 588.9)"/>
<ellipse cx="595.9" cy="591.9" rx="3.6" ry="2.8" fill="#231f20" transform="rotate(-20 595.9 591.9)"/>
<ellipse cx="580.8" cy="592.5" rx="3.2" ry="2.5" fill="#231f20" transform="rotate(-20 580.8 592.5)"/>
<ellipse cx="606.7" cy="588.3" rx="3.4" ry="2.6" fill="#777" transform="rotate(-20 606.7 588.3)"/>
<ellipse cx="642.2" cy="571.5" rx="1.7" ry="1.3" fill="#999" transform="rotate(-20 642.2 571.5)"/>
<ellipse cx="593.5" cy="572.1" rx="1.7" ry="1.3" fill="#999" transform="rotate(-20 593.5 572.1)"/>
<ellipse cx="621.2" cy="579.9" rx="2.2" ry="1.8" fill="#aaa" transform="rotate(-20 621.2 579.9)"/>
<ellipse cx="585.6" cy="596.8" rx="1.9" ry="1.5" fill="#999" transform="rotate(-20 585.6 596.8)"/>
<ellipse cx="574.8" cy="598.6" rx="1.9" ry="1.5" fill="#231f20" transform="rotate(-20 574.8 598.6)"/>
<ellipse cx="642.2" cy="585.9" rx="1.3" ry="1" fill="#888" transform="rotate(-20 642.2 585.9)"/>
</g>
<rect x="471.1" y="217.2" width="353.2" height="541.3" rx="21" fill="none" stroke="#3b3b3d" stroke-width="5.5"/></g>
<g id="bulb" stroke="#231f20" fill="none" stroke-linejoin="round">
<path d="M931.6,321 V232 Q931.6,227.5 937,227.5 Q941,227.5 943.5,229.5 Q946,227.5 951,227.5 Q956,227.5 956,232 V321" fill="#fff" fill-opacity="0.35" stroke-width="2.6"/>
<ellipse cx="937.8" cy="231.6" rx="4.6" ry="2.9" stroke-width="1.6"/>
<rect x="929.2" y="321" width="29" height="28.5" fill="#fff" fill-opacity="0.5" stroke-width="2.4"/>
<path d="M942.3,324.5 V341" stroke-width="2.2"/><path d="M940,339.5 L942.3,344.5 L944.6,339.5 Z" fill="#231f20" stroke-width="0.5"/>
<path d="M945.5,330 h2.5 M945.5,333 h2" stroke="#777" stroke-width="0.8"/>
<rect x="924.2" y="349" width="38.8" height="5.2" fill="#231f20" stroke="none"/>
<clipPath id="cb"><path d="M913,354.5 H976 C985,368 997,400 997,432 C997,465 985,497 975.5,510 H913.5 C903,497 890.5,465 890.5,432 C890.5,400 903,368 913,354.5 Z"/></clipPath>
<path d="M913,354.5 H976 C985,368 997,400 997,432 C997,465 985,497 975.5,510 H913.5 C903,497 890.5,465 890.5,432 C890.5,400 903,368 913,354.5 Z" fill="#fff" fill-opacity="0.8" stroke-width="2.6"/>
<g clip-path="url(#cb)" stroke-width="2.5"><path d="M885,365.5 H1002"/><path d="M885,378.7 H1002"/><path d="M885,391.9 H1002"/><path d="M885,405.1 H1002"/><path d="M885,418.3 H1002"/><path d="M885,431.5 H1002"/><path d="M885,444.7 H1002"/><path d="M885,457.9 H1002"/><path d="M885,471.1 H1002"/><path d="M885,484.3 H1002"/><path d="M885,497.5 H1002"/></g>
<path d="M913,354.5 H976 C985,368 997,400 997,432 C997,465 985,497 975.5,510 H913.5 C903,497 890.5,465 890.5,432 C890.5,400 903,368 913,354.5 Z" stroke-width="2.6"/>
<rect x="927.8" y="510" width="31.2" height="4.6" fill="#231f20" stroke="none"/>
<rect x="930.2" y="514" width="27" height="26" fill="#fff" fill-opacity="0.5" stroke-width="2.2"/>
<path d="M942.3,517.5 V532" stroke-width="2.2"/><path d="M940.2,531 L942.3,535.5 L944.4,531 Z" fill="#231f20" stroke-width="0.5"/>
<path d="M945.5,523 h2.5 M945.5,526 h2" stroke="#777" stroke-width="0.8"/>
<path d="M931.8,540 V599.5 Q931.8,604 937,604 Q941,604 943,602 Q945.5,604 950,604 Q955.6,604 955.6,599.5 V540" fill="#fff" fill-opacity="0.35" stroke-width="2.4"/>
<ellipse cx="949.6" cy="600.3" rx="4.2" ry="2.6" stroke-width="1.5"/>
</g>
<path d="M899.6,504.5 L882.3,633" stroke="#3f3f41" stroke-width="4.2" stroke-linecap="round" fill="none"/>
<g fill="#3b3b3d" stroke="#3b3b3d" stroke-width="0.55" font-size="28.6">
<text x="70.3" y="205" textLength="69" lengthAdjust="spacingAndGlyphs">(Fig 1)</text>
<text x="492.3" y="205" textLength="73.5" lengthAdjust="spacingAndGlyphs">(Fig 2)</text>
</g>
<g fill="#2a2a2a" font-size="16">
<text x="63.2" y="445.8" textLength="88.1" lengthAdjust="spacingAndGlyphs">Move intake</text>
<text x="63.2" y="466.4" textLength="50.6" lengthAdjust="spacingAndGlyphs">tube in</text>
<text x="63.2" y="486.9" textLength="41.1" lengthAdjust="spacingAndGlyphs">an up</text>
<text x="63.2" y="507.5" textLength="71.6" lengthAdjust="spacingAndGlyphs">and down</text>
<text x="63.2" y="528.1" textLength="55.6" lengthAdjust="spacingAndGlyphs">motion,</text>
<text x="63.2" y="548.7" textLength="72.6" lengthAdjust="spacingAndGlyphs">in and out</text>
<text x="63.2" y="569.2" textLength="66.6" lengthAdjust="spacingAndGlyphs">of gravel.</text>
<text x="485.3" y="467.4" textLength="75.2" lengthAdjust="spacingAndGlyphs">Pull intake</text>
<text x="485.3" y="488" textLength="79.1" lengthAdjust="spacingAndGlyphs">tube out of</text>
<text x="485.3" y="508.6" textLength="72.6" lengthAdjust="spacingAndGlyphs">the gravel</text>
<text x="485.3" y="529.2" textLength="56.6" lengthAdjust="spacingAndGlyphs">to allow</text>
<text x="485.3" y="549.8" textLength="63.6" lengthAdjust="spacingAndGlyphs">gravel to</text>
<text x="485.3" y="570.4" textLength="62.6" lengthAdjust="spacingAndGlyphs">separate</text>
<text x="485.3" y="591" textLength="87" lengthAdjust="spacingAndGlyphs">from debris.</text>
</g>
<g fill="#3d3d40" font-size="51" font-weight="bold">
<text x="870.8" y="684.8" textLength="171.5" lengthAdjust="spacingAndGlyphs">Priming</text>
<text x="870.8" y="741.2" textLength="99.5" lengthAdjust="spacingAndGlyphs">Bulb</text>
</g>
<g fill="#1f3a6e" font-size="37" font-weight="bold">
<text x="477.8" y="999.4" letter-spacing="1.08">Priming</text>
<text x="635.5" y="999.4" letter-spacing="0.53">bulb</text>
<text x="726.3" y="999.4" letter-spacing="0.95">quickly</text>
<text x="869.7" y="999.4" letter-spacing="0.68">starts</text>
<text x="985.3" y="999.4" letter-spacing="2.35">the</text>
<text x="584.5" y="1042.2" letter-spacing="0.85">siphon</text>
<text x="720" y="1042.2" letter-spacing="2.41">with</text>
<text x="811.3" y="1042.2" letter-spacing="0.00">a</text>
<text x="844" y="1042.2" letter-spacing="0.25">few</text>
<text x="918" y="1042.2" letter-spacing="1.55">pumps</text>
</g>
<path id="fish" d="M424.3,980.2 C426,982 427,984 427.2,985.5 C427,987.5 425.8,989.5 424.5,991 C427.5,989.8 430,987.8 432.5,987.2 C437,988.6 442,990.2 447,989.9 C451,989.6 454,987.6 454.6,986.2 C454.2,983.8 451.5,981.6 448,980.8 L447.2,979.6 C444,979.2 441,979.2 438.5,979.6 L437.2,983 C434,983.8 430,983.6 427.5,982.2 C426.5,981.4 425.3,980.6 424.3,980.2 Z" fill="#f26a1b"/>
</svg></body></html>
